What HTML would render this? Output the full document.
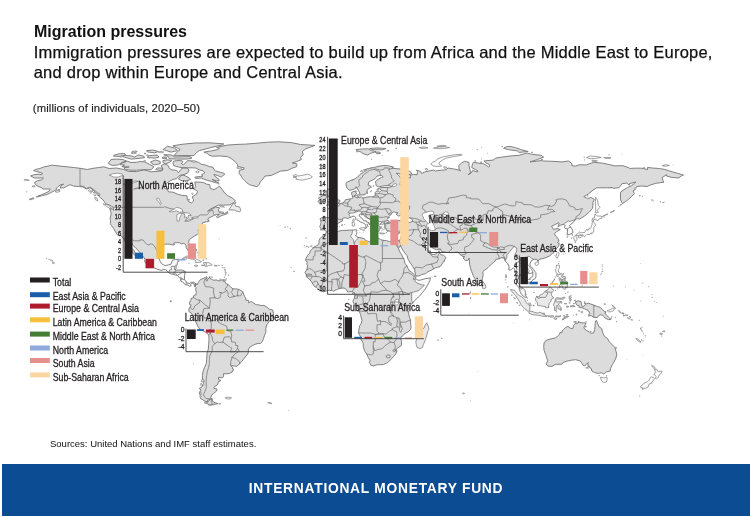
<!DOCTYPE html>
<html><head><meta charset="utf-8"><title>Migration pressures</title>
<style>
html,body{margin:0;padding:0;background:#fff;}
body{width:750px;height:517px;overflow:hidden;position:relative;font-family:"Liberation Sans",sans-serif;color:#1a1a1a;}
.t{position:absolute;white-space:nowrap;}
#title{left:34px;top:23.0px;font-size:16px;font-weight:bold;line-height:18px;color:#111;}
#sub1,#sub2{left:33.7px;font-size:16.5px;letter-spacing:0.23px;line-height:19px;color:#111;-webkit-text-stroke:0.25px #111;}
#sub1{top:43.2px;} #sub2{top:62.6px;}
#units{left:32.8px;top:102.3px;font-size:11.3px;letter-spacing:0.1px;line-height:13px;color:#222;-webkit-text-stroke:0.15px #222;}
#src{left:50px;top:438.2px;font-size:9.5px;line-height:11px;color:#111;}
#footer{position:absolute;left:2px;top:464px;width:748px;height:51.5px;background:#0c4c92;}
#ftxt{position:absolute;left:0;width:750px;top:481.1px;text-align:center;color:#fff;font-weight:bold;font-size:13.8px;letter-spacing:0.74px;line-height:16px;text-indent:2px;}
svg{position:absolute;left:0;top:0;}
#wrap{position:absolute;left:0;top:0;width:750px;height:517px;overflow:hidden;transform:translateZ(0);will-change:transform;background:#fff;}
svg text{font-family:"Liberation Sans",sans-serif;stroke:#231f20;stroke-width:0.3px;paint-order:stroke;}
</style></head><body>
<div id="wrap">
<div class="t" id="title">Migration pressures</div>
<div class="t" id="sub1">Immigration pressures are expected to build up from Africa and the Middle East to Europe,</div>
<div class="t" id="sub2">and drop within Europe and Central Asia.</div>
<div class="t" id="units">(millions of individuals, 2020–50)</div>
<svg width="750" height="517" viewBox="0 0 750 517">
<g id="map">
<path d="M51.8 165.1L60.0 166.1L67.2 166.8L74.5 167.6L80.0 168.3L87.3 169.5L91.8 168.5L98.2 167.6L103.7 166.8L109.1 168.5L116.4 168.0L123.7 169.5L128.3 171.4L136.5 171.6L140.1 170.8L143.8 169.9L151.1 171.8L157.4 171.4L162.0 170.8L162.9 168.5L161.1 165.7L164.7 163.8L168.4 165.7L169.3 168.5L172.0 169.9L176.6 170.4L178.4 172.7L181.1 169.5L182.0 168.0L187.5 168.0L188.8 170.4L187.5 173.3L182.9 174.8L180.2 175.2L178.4 176.5L176.6 178.6L172.9 179.5L168.4 181.8L165.6 184.6L164.4 188.4L167.5 189.4L168.4 191.8L172.9 192.2L177.5 194.1L182.0 195.4L186.9 195.8L187.5 199.8L189.3 202.2L191.5 203.0L193.5 201.1L193.5 199.8L192.1 196.9L196.6 194.1L197.5 191.3L193.9 188.8L195.7 186.5L194.8 182.0L200.2 182.2L203.9 182.7L206.6 184.2L209.7 184.6L210.3 188.4L213.9 189.7L217.6 187.5L219.4 186.0L222.1 189.4L224.8 193.1L227.6 195.6L232.1 197.9L235.4 200.7L234.0 202.6L229.4 204.9L223.9 205.1L218.5 205.1L214.8 206.8L210.3 209.2L207.5 211.3L211.2 209.6L215.7 207.2L219.7 207.7L218.5 209.6L219.0 212.1L221.2 213.0L224.8 213.6L227.6 211.5L227.6 213.4L224.8 214.5L221.2 215.7L217.6 217.8L216.3 216.8L219.4 214.3L216.6 214.5L214.5 215.3L211.2 216.8L208.4 218.1L207.9 220.0L209.4 221.0L206.6 221.7L202.4 222.9L202.1 224.4L200.4 226.3L199.3 227.2L199.0 230.1L197.9 230.1L199.2 233.3L197.2 234.4L194.8 235.9L192.1 237.6L189.3 239.5L188.6 242.4L190.2 246.1L191.0 249.9L190.4 252.4L189.0 252.2L187.9 250.3L186.2 247.5L186.0 245.2L183.9 243.3L181.5 243.9L179.3 242.6L176.6 242.7L173.8 242.9L174.4 245.0L172.0 244.8L169.3 244.1L165.6 244.1L163.4 245.2L160.2 247.1L159.6 250.9L158.9 254.7L158.7 257.9L159.8 260.7L161.6 263.8L163.8 264.9L165.1 265.6L168.4 264.9L171.1 264.1L172.0 261.3L172.4 260.2L175.7 259.4L178.4 259.4L177.5 262.6L176.9 265.5L176.0 266.0L176.0 268.9L175.1 270.0L176.9 270.2L180.2 270.0L182.9 270.2L185.3 271.7L184.6 275.5L184.4 279.3L185.7 281.2L187.1 283.1L189.3 283.4L191.5 282.3L193.3 282.1L195.9 283.6L195.0 286.5L194.1 285.0L194.4 284.0L192.1 283.1L190.6 284.4L191.1 285.9L189.3 286.3L188.0 285.0L185.9 284.8L184.6 284.0L182.6 281.9L180.8 281.2L180.8 279.1L179.3 277.4L177.5 275.5L175.7 275.1L172.9 274.2L170.2 273.6L168.7 272.5L165.6 269.6L163.8 269.4L161.1 270.4L157.4 269.2L154.7 268.1L151.1 266.0L147.4 264.1L144.7 262.2L145.0 259.4L143.2 256.2L140.1 252.8L137.8 249.9L135.6 248.0L132.8 245.2L131.0 241.4L127.9 240.1L127.9 242.4L130.1 245.2L131.9 248.0L134.1 250.9L135.6 253.7L137.4 256.2L136.1 256.6L132.8 253.2L132.5 250.9L129.2 249.0L128.3 247.5L129.2 246.1L126.5 243.3L124.6 240.5L123.5 238.6L121.2 235.7L117.3 234.8L115.0 231.0L113.7 228.7L111.3 225.3L110.4 223.6L110.6 220.6L110.1 218.7L111.0 214.9L111.0 212.5L109.7 208.5L112.8 209.2L113.7 210.4L113.2 207.3L111.9 206.4L109.1 204.9L105.5 203.6L104.0 201.1L101.9 198.8L99.5 196.9L98.2 195.0L95.5 192.2L92.8 189.7L90.0 187.8L86.4 189.0L82.7 186.9L78.2 186.5L73.6 186.1L70.0 184.6L66.3 186.5L63.6 187.8L60.3 188.0L60.9 185.6L63.6 184.2L60.9 184.6L58.1 186.5L56.3 188.4L57.2 189.4L54.5 190.7L50.8 192.6L47.2 194.5L42.6 195.6L39.0 196.4L36.6 196.7L41.7 194.7L45.4 193.1L49.0 191.3L50.3 189.0L47.2 189.0L42.6 189.0L41.7 187.5L38.1 186.5L35.7 184.6L34.4 182.7L37.2 180.8L41.7 179.9L43.6 178.0L39.9 178.0L34.4 178.0L30.6 175.9L34.4 174.6L39.0 174.2L41.7 174.8L42.6 173.3L38.1 171.9L33.5 170.6L35.4 169.5L39.9 168.5L43.6 167.0L49.0 165.9ZM195.9 283.6L197.0 285.0L197.9 283.1L199.2 281.2L200.6 279.3L203.0 278.7L205.4 277.4L206.6 276.6L207.0 277.8L205.9 279.1L206.6 281.2L207.5 280.6L207.0 279.3L209.0 278.5L209.4 277.0L209.9 278.3L212.5 279.7L213.0 280.2L216.6 280.0L219.0 281.0L221.2 280.0L223.9 279.8L222.7 280.8L224.8 281.5L226.1 283.8L227.9 284.4L230.9 287.2L233.0 288.9L236.3 288.9L238.5 289.3L241.6 290.8L242.9 292.1L244.5 296.3L245.8 298.2L245.8 300.1L248.5 300.5L248.7 302.8L251.3 301.4L256.2 304.8L257.6 304.6L261.3 305.6L264.0 305.4L266.8 307.1L269.1 309.2L272.6 309.9L273.5 313.5L273.3 315.4L271.9 318.5L269.5 320.9L266.8 324.7L265.8 328.5L265.8 332.3L264.6 335.1L263.5 338.5L262.2 341.7L260.4 343.6L258.2 343.4L255.5 344.2L252.5 345.5L249.6 347.4L248.4 349.3L248.4 352.3L247.6 354.2L245.3 356.9L243.1 359.7L242.0 361.1L239.6 363.9L236.9 366.2L234.5 366.2L231.6 365.4L230.5 364.5L230.5 365.6L232.7 367.3L232.5 368.8L233.6 369.0L232.1 372.0L229.4 373.4L225.8 373.9L223.6 373.5L223.6 376.8L222.1 377.9L218.5 377.3L218.5 379.6L221.0 380.6L218.5 381.5L217.9 384.3L213.9 387.2L213.9 388.3L217.0 389.1L216.6 391.0L213.7 393.4L211.4 395.3L210.8 397.8L212.3 399.1L210.3 399.1L207.7 400.1L207.5 401.9L204.8 401.0L203.0 399.9L200.6 398.5L200.2 395.7L199.3 392.3L201.2 390.0L199.2 388.5L202.1 386.8L203.5 383.4L204.3 380.6L202.6 379.2L202.4 375.8L203.0 372.0L203.5 370.1L204.6 367.3L206.3 363.5L206.6 359.7L206.8 356.9L207.0 353.1L208.3 349.3L208.6 344.8L209.0 339.9L208.8 335.1L206.8 333.0L204.4 331.5L199.9 329.1L197.9 326.4L196.4 323.0L194.4 319.2L193.0 315.6L191.3 313.2L189.0 311.5L188.8 309.0L190.2 306.7L191.3 305.0L189.5 304.3L189.7 302.0L191.0 300.1L191.0 298.6L193.1 297.8L193.9 295.4L195.7 295.0L196.4 292.7L195.7 289.7L195.9 287.4L195.0 286.5ZM211.9 399.7L212.6 401.0L213.9 402.3L218.1 403.6L215.7 404.2L212.1 404.8L209.4 404.8L206.6 403.5L204.8 402.3L208.4 401.8L209.0 400.4L210.6 399.7ZM278.6 141.8L291.3 142.6L300.5 144.5L315.0 145.4L305.9 148.7L302.3 151.5L303.2 154.7L300.5 157.2L301.4 159.5L296.8 161.5L292.3 163.0L296.8 163.8L296.8 166.6L291.3 168.5L287.7 170.4L280.4 171.2L275.9 173.3L271.3 175.4L264.9 176.1L263.1 178.9L260.4 181.8L259.1 184.6L256.9 186.7L254.0 186.0L249.4 184.6L246.7 182.7L244.9 180.8L242.7 178.6L241.2 176.1L239.1 173.3L239.4 170.4L244.0 169.1L244.0 167.8L237.6 166.6L237.6 164.8L235.8 162.3L232.1 159.1L227.6 156.6L220.3 156.0L212.1 156.2L208.4 154.7L207.5 153.4L203.9 152.1L211.2 150.9L217.6 149.6L219.4 148.3L216.6 147.5L221.2 146.4L227.6 145.1L234.9 144.5L245.8 144.1L254.9 143.4L267.7 142.2ZM218.8 183.1L215.7 182.7L211.2 181.4L206.1 179.9L201.2 178.0L195.7 178.4L194.8 177.1L200.2 176.5L203.0 176.1L201.5 174.8L204.8 172.9L203.0 170.8L199.3 169.9L195.7 168.0L192.1 167.8L187.5 167.8L182.0 167.6L178.4 167.0L173.8 165.7L172.9 162.9L173.8 161.0L180.2 160.4L182.9 161.3L181.5 163.8L183.3 164.8L185.7 162.9L187.5 160.6L190.2 160.8L194.8 161.3L198.4 162.3L201.2 164.2L205.7 165.1L209.4 166.6L213.0 167.2L213.9 169.5L215.7 171.0L220.3 172.3L223.9 173.3L224.8 174.2L223.0 175.5L221.2 177.1L217.6 175.5L213.9 174.4L215.7 177.1L218.8 179.1L219.2 180.8L216.6 180.8L212.1 179.5L216.1 181.8ZM125.5 169.5L130.1 170.2L136.5 170.2L143.8 169.7L151.1 169.7L152.9 168.2L153.8 166.6L149.2 164.2L144.7 161.9L140.1 161.5L136.5 162.3L131.0 162.5L127.4 161.2L121.9 162.3L120.1 164.6L124.6 165.1L121.9 166.5L129.2 167.0L123.7 167.8ZM112.8 165.5L118.3 164.8L120.1 163.8L125.5 161.9L126.5 161.0L122.8 159.5L116.4 159.1L111.0 159.5L110.1 161.0L108.2 163.2L110.1 164.6ZM124.6 157.2L131.0 159.1L140.1 158.3L144.7 157.6L143.8 156.2L138.3 154.9L134.7 157.0L131.0 155.9L124.6 155.3L122.8 156.6ZM113.7 156.2L120.1 156.4L125.5 155.1L124.6 153.6L119.2 153.8L113.7 155.3ZM147.4 157.6L154.7 158.1L158.9 157.2L157.4 155.1L152.9 155.3L148.3 155.9ZM191.1 157.0L191.5 158.5L185.7 159.1L176.6 159.1L169.3 158.7L168.4 156.6L163.8 154.7L171.1 154.9L174.7 157.0L182.0 156.8L189.3 156.6ZM162.9 160.6L167.5 159.8L172.0 160.4L169.3 162.5L165.6 163.8L162.9 162.3ZM154.7 164.8L160.2 163.8L160.2 161.5L155.6 160.0L150.5 161.9L152.0 163.8ZM155.6 169.5L159.3 170.4L162.9 169.7L162.0 168.0L157.4 168.0ZM178.4 178.9L181.1 175.5L183.9 175.2L189.3 178.0L190.6 179.5L186.6 180.8L181.1 180.5ZM173.8 155.7L185.7 155.5L193.0 155.7L194.8 154.7L196.6 152.4L199.3 150.6L205.7 149.0L211.2 147.5L216.6 146.2L222.1 145.1L223.9 143.9L209.4 142.8L194.8 143.0L182.0 144.3L172.9 145.8L176.6 147.7L180.2 149.6L178.4 150.9L176.6 152.8ZM162.9 149.6L167.5 146.2L174.7 148.1L177.5 150.6L171.1 152.1ZM147.4 151.9L154.7 152.8L158.3 151.5L152.9 150.0L146.5 150.6ZM162.0 158.1L166.5 158.7L166.5 157.2L162.9 157.0ZM383.9 165.5L387.9 165.7L393.4 167.0L391.6 168.2L397.0 168.7L402.5 169.3L409.8 171.4L411.6 172.9L411.6 174.0L407.0 175.0L400.7 174.2L396.1 173.1L397.9 174.6L400.3 177.1L400.3 178.0L403.4 178.9L406.1 179.1L405.8 177.4L410.7 177.8L409.8 175.5L413.4 174.4L417.1 174.8L417.6 171.4L416.2 170.2L420.7 171.4L421.6 173.5L424.4 172.1L428.0 171.2L433.5 170.1L435.3 171.0L441.7 170.2L446.2 169.7L448.0 168.0L453.5 168.9L458.1 169.9L460.8 170.8L459.0 169.5L459.0 167.6L458.6 165.7L461.7 162.9L464.4 161.3L469.0 162.3L469.0 165.7L469.9 169.5L470.8 173.3L468.1 174.6L471.7 172.3L472.6 170.4L477.2 172.1L478.1 171.0L471.7 167.6L472.6 163.8L473.5 162.3L479.0 163.2L483.6 163.8L486.9 165.7L488.5 167.0L489.9 166.1L489.0 164.2L486.3 163.2L483.9 161.0L493.6 160.0L495.4 158.1L502.7 157.0L510.0 156.0L519.1 155.3L526.9 153.0L531.9 154.3L541.0 155.3L543.7 157.2L537.3 159.6L530.0 161.9L541.0 160.6L543.7 161.0L551.9 161.3L561.9 161.9L568.3 161.0L571.9 163.4L571.9 165.7L575.6 166.1L579.2 164.8L586.5 164.9L592.0 162.9L593.8 162.3L602.9 163.2L610.2 164.8L614.8 165.9L623.0 165.7L628.4 167.6L630.2 168.5L633.9 168.2L641.2 168.2L647.6 169.5L647.6 167.4L652.1 168.0L659.4 168.5L664.9 169.5L672.1 171.8L677.6 173.3L683.4 175.0L681.3 176.1L678.5 178.0L672.1 177.4L666.7 176.1L666.7 174.6L662.1 177.6L663.0 180.8L663.9 182.2L655.8 183.3L650.3 185.0L647.2 186.5L641.2 186.0L636.6 186.7L634.4 190.3L633.0 190.9L634.4 193.7L632.1 196.0L628.4 199.4L625.3 201.7L622.4 203.6L620.6 199.8L620.4 196.0L620.6 192.2L623.0 190.3L627.5 187.5L631.7 185.6L634.8 183.1L635.7 182.0L629.3 183.7L629.3 185.2L626.6 183.1L622.0 183.7L619.3 187.5L613.8 188.4L612.0 187.5L607.5 187.8L601.1 187.8L596.5 187.8L592.0 190.9L588.3 194.1L583.8 196.6L586.5 197.9L587.4 198.6L591.1 197.5L594.3 199.4L592.9 202.6L592.9 205.5L592.5 208.3L589.2 212.1L584.7 215.9L579.6 219.1L577.2 218.5L575.0 220.0L573.2 222.5L570.7 224.4L569.2 225.7L570.8 227.2L572.7 230.1L572.8 232.9L569.6 234.4L567.2 235.0L567.4 232.0L567.6 229.1L565.2 228.5L564.5 227.2L565.2 225.3L563.4 224.4L560.1 225.3L557.9 226.7L559.2 223.4L558.8 222.7L554.6 224.8L551.5 226.3L552.8 228.2L553.7 229.5L557.0 228.5L560.3 229.5L556.5 231.8L554.3 233.8L556.5 236.7L558.8 239.9L558.8 241.6L557.4 242.4L559.2 243.7L558.3 246.5L556.1 249.0L554.6 251.8L552.3 253.7L549.5 256.0L545.2 257.9L542.8 258.5L539.1 259.4L537.9 261.7L537.0 259.4L534.2 259.2L531.5 260.7L529.7 264.1L530.9 266.4L533.3 269.2L535.9 272.7L536.0 276.4L535.5 278.3L532.2 280.4L531.1 282.1L528.6 283.6L527.8 281.5L527.3 280.4L525.5 280.0L524.4 278.0L522.7 276.4L520.9 276.1L520.7 274.5L519.1 274.9L518.9 277.4L517.6 280.2L517.8 282.5L519.6 284.4L520.0 286.5L522.2 287.4L523.3 288.4L525.1 290.6L525.5 292.5L525.3 295.0L526.8 297.4L525.5 297.6L523.1 295.9L521.5 294.4L520.2 292.1L519.6 289.7L519.3 287.8L518.4 286.8L516.4 285.0L516.4 281.5L516.5 278.3L516.4 275.5L514.9 271.7L514.7 268.9L513.3 267.9L511.8 268.9L510.5 270.2L508.7 269.8L509.1 267.0L508.2 264.1L506.3 262.2L504.9 260.3L504.2 257.9L501.8 257.5L499.1 258.8L495.8 259.4L495.0 261.3L493.2 262.6L490.9 264.7L488.7 266.6L486.7 268.9L484.5 270.2L482.8 271.7L483.2 275.3L482.3 278.3L482.3 280.6L480.8 282.5L479.4 283.4L478.1 284.8L476.3 283.1L475.0 278.7L473.2 275.5L471.7 271.7L470.5 267.9L469.5 264.1L469.4 260.3L469.0 258.1L468.3 260.0L465.9 260.9L463.0 258.1L464.8 256.8L462.3 256.2L461.2 255.2L459.5 254.1L458.8 253.0L458.1 252.0L454.4 252.4L450.4 252.6L449.1 252.6L444.4 252.0L441.3 251.3L440.4 248.8L436.2 249.7L432.6 247.9L429.8 245.6L428.0 242.9L426.0 242.7L424.4 243.5L424.4 245.2L425.6 247.1L428.0 249.6L428.4 251.8L429.5 253.2L429.5 251.6L430.2 250.7L430.9 252.8L430.7 254.1L433.5 254.5L436.2 253.9L437.7 252.2L439.1 250.7L439.7 253.0L440.8 254.7L443.7 255.4L445.9 257.5L443.9 261.3L442.0 264.1L440.8 266.0L437.7 267.4L435.3 267.9L432.0 269.8L428.0 271.7L425.6 273.6L421.6 274.7L418.9 275.9L416.2 276.1L415.6 274.9L414.9 271.7L414.7 269.1L412.5 266.0L409.8 262.2L408.1 259.4L407.0 255.6L404.7 252.8L403.4 250.9L401.0 247.1L400.5 244.3L399.8 247.1L399.2 247.7L397.4 246.0L396.3 243.5L395.8 240.8L399.2 240.8L400.3 239.1L400.9 237.4L401.8 235.4L402.3 233.5L402.7 230.8L400.7 230.6L398.3 231.6L396.1 231.8L392.7 230.4L390.6 231.6L388.3 230.6L386.6 230.1L386.1 228.2L384.8 227.4L385.5 225.7L384.5 225.1L384.6 224.4L387.0 223.6L389.7 223.4L389.9 222.5L392.5 222.1L395.2 221.0L397.9 220.6L400.9 220.6L403.0 221.9L406.1 222.5L409.8 222.5L412.5 221.5L412.5 219.6L409.8 217.9L406.1 215.9L404.3 214.5L405.2 213.2L406.5 212.3L408.5 210.8L405.2 211.1L403.4 211.7L401.2 212.5L400.7 213.6L403.4 214.3L401.4 214.9L398.8 216.1L397.9 215.7L396.1 214.2L398.1 212.8L395.2 212.6L394.3 211.9L392.8 212.1L391.0 214.3L389.2 216.4L389.0 217.8L387.7 218.3L387.0 219.6L388.1 220.8L389.7 222.1L387.9 222.5L386.6 223.1L385.5 223.6L384.6 224.2L384.5 223.2L382.4 222.7L381.4 222.7L380.6 223.6L381.4 224.2L379.5 224.4L378.6 223.4L378.1 224.4L378.8 225.7L379.4 227.0L380.6 227.8L380.8 228.7L379.7 228.4L378.8 228.4L379.2 229.3L379.2 231.0L377.7 231.0L376.4 230.4L375.7 228.7L376.4 227.6L375.2 226.8L374.6 226.3L373.7 225.1L373.2 224.4L372.2 223.4L372.4 221.5L371.9 220.6L370.6 219.6L367.9 218.3L366.8 217.8L364.6 216.4L364.0 214.9L363.1 214.3L361.7 215.1L361.7 213.8L359.7 214.2L359.3 215.9L359.9 216.8L361.7 217.8L362.8 219.6L364.6 220.8L366.4 220.8L366.1 221.7L367.9 222.3L369.7 223.2L370.6 224.2L370.2 224.8L368.2 223.6L367.1 224.8L368.1 226.3L367.0 227.4L365.5 228.4L365.5 227.8L366.1 226.3L365.5 224.4L363.3 223.2L362.8 222.9L360.6 222.1L359.1 221.0L357.1 219.8L356.0 218.7L355.7 217.8L354.8 216.6L353.1 216.1L351.5 217.0L350.2 217.4L347.8 218.5L346.0 217.9L344.2 217.8L342.7 218.3L342.5 219.8L342.7 220.8L340.9 221.7L338.5 222.9L336.9 224.6L336.4 225.5L337.3 226.7L336.0 227.6L335.4 228.9L333.4 230.2L330.5 230.6L328.9 230.6L327.1 231.8L326.0 231.6L325.4 230.8L324.3 229.7L323.4 229.7L320.7 230.1L320.9 228.2L319.6 226.8L320.5 225.1L321.0 222.5L320.7 220.6L320.0 218.7L322.3 217.4L326.5 217.6L330.0 217.8L333.6 217.9L334.7 215.9L334.9 213.8L334.7 212.6L332.9 211.1L332.3 210.4L329.1 209.6L328.2 208.5L330.5 207.7L334.0 208.1L334.0 206.2L334.9 206.6L337.1 206.4L339.6 205.3L339.8 203.7L342.7 203.0L344.2 201.7L345.5 199.8L349.5 199.0L351.7 198.6L352.9 197.9L352.6 196.0L351.7 194.8L351.7 192.2L356.2 190.9L355.7 192.8L356.8 193.5L355.1 195.0L354.2 196.0L355.1 196.9L356.9 197.9L359.1 197.5L361.5 196.9L363.0 198.1L366.1 197.3L370.6 196.6L373.0 196.9L375.2 195.6L375.2 192.6L376.3 191.3L378.1 190.9L379.7 192.2L381.4 190.3L379.7 188.8L379.7 188.0L382.1 187.5L387.9 187.5L391.9 186.7L389.2 185.4L384.3 185.8L382.4 186.1L378.8 186.9L376.1 185.6L375.9 183.7L375.5 181.8L376.3 180.5L378.8 178.9L381.5 177.4L383.2 176.9L381.7 175.5L379.7 175.5L377.0 176.1L375.7 177.8L373.9 179.3L370.6 181.0L368.6 182.2L368.2 185.2L370.6 186.1L371.3 187.3L369.9 187.8L367.9 189.2L367.1 190.7L366.8 192.8L365.7 193.9L363.0 194.8L360.6 195.2L360.0 194.1L358.8 190.9L357.3 188.6L356.2 186.7L355.7 188.2L353.3 189.4L349.7 190.3L347.3 188.6L346.2 186.0L346.0 183.7L346.4 182.4L349.7 181.0L352.8 179.7L354.8 178.9L357.3 177.2L359.3 175.5L360.6 173.8L363.1 172.7L364.2 171.4L367.0 170.2L364.2 169.7L368.8 168.5L371.5 168.0L375.2 167.2L379.7 166.1ZM326.5 205.3L330.5 204.9L334.5 204.1L337.4 203.9L339.5 203.2L338.2 202.6L339.8 201.7L340.0 200.3L337.4 199.8L337.3 198.6L336.5 197.5L334.7 196.6L334.0 195.0L333.1 194.1L330.9 194.1L332.2 193.3L333.3 191.1L329.6 190.9L331.3 189.2L327.8 189.2L326.9 190.7L326.3 192.2L326.9 193.7L326.5 195.4L328.2 195.0L327.8 196.4L330.5 196.2L331.1 197.9L331.4 199.0L328.7 199.2L329.1 200.1L329.4 201.1L327.4 201.9L330.5 202.6L331.8 202.6L329.2 203.2ZM325.6 199.2L325.4 201.3L321.8 202.0L318.7 202.4L318.1 201.3L319.6 199.8L318.7 198.8L319.0 197.3L321.4 196.9L321.8 195.8L323.6 195.4L326.0 195.6L326.9 196.9L326.0 197.9ZM395.8 233.7L397.0 233.1L399.9 232.5L398.8 233.8L397.0 234.6L395.9 234.4ZM356.0 149.6L362.4 149.0L367.9 148.8L371.5 150.6L376.1 151.5L370.6 153.4L367.3 155.1L362.4 153.4L361.5 152.1L356.9 150.9ZM369.7 148.5L377.0 147.9L386.1 148.5L382.4 149.8L373.3 149.6ZM375.2 152.1L379.7 152.1L380.6 153.4L377.0 153.8ZM510.0 146.4L515.5 147.7L520.9 149.6L528.2 151.5L519.1 152.4L517.3 150.9L508.2 149.6L503.6 148.3L506.3 146.8ZM395.8 240.8L393.4 240.5L391.6 241.0L389.7 241.6L386.5 240.7L382.8 240.3L380.4 239.5L378.8 238.4L376.3 237.8L373.5 239.3L373.2 241.8L371.5 242.7L368.8 241.6L365.5 240.5L364.6 238.8L361.0 237.8L357.9 237.3L356.8 236.3L355.3 235.7L356.4 234.4L356.9 232.7L356.2 231.2L357.1 230.1L355.5 229.7L352.6 230.2L349.7 230.1L346.0 230.4L342.4 230.4L338.7 231.2L335.8 232.5L333.3 233.7L331.4 233.3L328.7 233.5L327.2 232.1L326.2 232.3L325.4 234.2L324.5 235.7L323.1 236.5L321.2 237.3L320.0 238.6L319.0 240.5L319.2 242.6L318.3 244.6L316.5 245.8L313.4 247.3L312.5 249.0L310.5 250.5L309.6 253.2L307.7 255.2L306.1 258.5L305.7 260.5L307.2 262.2L306.8 264.1L307.7 265.8L306.8 269.8L305.0 272.3L306.3 274.5L306.3 276.6L307.7 277.8L309.6 279.5L311.9 282.1L312.8 284.0L314.1 286.1L316.3 287.4L317.2 288.2L320.0 290.3L323.2 291.8L326.0 291.0L329.6 290.3L332.3 290.6L333.3 291.2L336.5 289.7L339.1 288.6L341.5 288.2L343.1 288.0L345.1 288.4L346.6 290.1L347.8 292.0L349.7 291.8L352.0 291.6L353.1 292.5L354.6 292.7L354.8 295.4L354.4 298.2L353.8 299.3L352.9 301.4L354.4 304.6L356.9 307.5L358.4 309.2L359.1 311.3L360.6 314.3L361.0 316.8L362.0 320.4L361.3 323.4L359.7 325.7L359.1 328.9L358.4 332.7L360.2 336.1L361.3 339.5L363.3 343.4L363.3 346.5L364.4 350.5L366.8 354.2L368.4 357.8L370.1 360.7L369.5 362.4L370.4 364.3L370.6 365.2L373.3 366.0L377.2 364.7L380.6 364.7L383.5 364.5L387.7 362.6L390.6 359.7L393.4 356.7L395.8 354.1L396.8 351.0L396.3 349.1L397.9 347.8L401.4 345.5L401.6 341.7L400.7 338.9L400.3 337.6L403.0 335.7L404.3 333.8L408.0 331.9L410.7 329.4L411.1 327.5L410.7 324.5L410.5 320.0L409.4 317.1L408.5 313.0L407.8 310.5L408.3 309.0L409.2 307.7L410.3 304.8L412.5 303.3L414.5 300.7L417.1 298.2L419.4 296.3L422.5 292.5L425.3 289.1L427.1 285.9L428.9 282.5L430.0 280.2L430.4 277.8L428.0 278.3L425.3 278.7L421.6 279.7L418.9 280.4L416.5 279.5L415.6 278.3L415.8 276.4L414.2 274.5L411.6 272.3L409.2 270.8L408.0 268.3L407.0 266.0L404.9 263.2L404.3 260.3L403.0 257.5L401.8 254.9L399.8 251.8L398.7 249.0L397.0 246.1L396.1 243.5ZM596.5 320.4L598.9 326.6L601.6 328.5L602.9 333.2L604.4 336.4L607.5 338.5L609.3 341.7L611.7 344.2L614.8 347.4L616.0 351.2L616.8 354.4L615.7 358.8L613.8 362.2L612.4 364.5L610.6 368.2L610.2 371.1L606.6 371.8L603.6 374.1L601.1 372.6L598.4 373.5L594.7 372.6L592.0 371.1L591.1 368.2L589.2 367.5L589.2 366.0L588.0 366.7L588.0 363.5L588.3 362.6L586.5 363.9L584.7 366.0L583.2 365.4L581.4 362.6L580.1 360.9L575.6 359.7L571.9 360.1L566.5 361.2L562.8 362.6L561.9 364.3L555.5 364.3L551.9 366.4L548.3 366.2L546.6 365.0L546.4 363.5L547.7 360.7L546.4 356.9L545.7 354.6L544.1 350.5L543.7 346.5L544.1 342.9L545.0 341.4L547.3 339.9L550.1 339.1L553.0 338.5L555.5 337.8L558.3 335.7L559.5 334.2L560.1 332.3L561.9 332.8L562.1 331.0L563.7 329.4L565.6 327.5L567.9 326.4L570.1 328.1L571.0 328.5L573.0 328.3L573.4 325.7L575.2 323.6L578.3 323.0L578.5 321.5L581.0 322.8L583.8 322.8L586.1 323.2L584.7 325.7L583.8 328.1L586.1 330.2L589.2 331.9L591.1 333.2L593.6 333.0L594.7 329.4L595.1 325.7L595.1 323.8L595.6 320.9ZM575.6 301.6L578.3 300.9L581.0 301.6L581.4 303.9L582.0 306.3L583.8 306.3L585.6 304.3L588.3 303.1L593.3 305.0L597.4 306.5L600.2 307.3L602.5 309.9L604.7 311.5L606.2 312.0L604.7 313.0L606.6 315.2L608.4 317.1L611.1 319.4L608.4 319.6L605.1 318.1L602.9 315.4L600.2 314.7L598.4 315.8L597.4 317.5L593.8 317.3L591.1 315.6L588.3 316.0L589.8 313.4L588.3 310.5L584.7 308.8L581.0 307.5L579.2 307.7L578.9 305.4L577.4 305.6L575.6 302.9Z" fill="#dcdcdc" stroke="none"/>
<path d="M505.1 261.3L505.6 259.8L506.7 257.9L506.9 254.7L509.3 252.4L510.4 250.9L512.2 248.4L514.2 246.5L516.7 248.0L516.7 251.1L514.9 254.7L516.7 254.7L517.6 256.6L517.6 258.3L519.3 259.4L521.3 258.8L521.3 260.0L523.1 257.7L526.4 257.1L529.1 256.2L531.3 258.1L533.7 259.4L535.5 261.3L538.2 267.9L538.2 281.2L530.0 286.8L528.2 296.3L526.9 298.0L525.3 298.0L520.9 295.2L518.2 291.6L515.5 286.8L513.6 283.1L512.7 273.6L507.8 270.8L507.3 265.1ZM563.4 224.4L564.6 223.4L568.1 221.0L570.1 221.5L571.9 220.6L574.9 219.8L575.9 222.5L574.1 232.0L573.4 234.8L566.5 235.9L565.6 233.8L563.2 228.2ZM348.9 214.7L349.7 213.2L353.3 213.0L355.8 211.9L359.1 211.1L361.9 212.1L361.9 213.8L360.6 214.9L361.5 217.2L367.0 220.2L371.5 224.0L368.8 227.2L366.1 229.1L364.8 231.4L358.8 229.7L358.4 227.2L362.4 224.4L357.9 221.0L354.8 217.8L352.4 216.8L350.6 217.8ZM373.2 224.9L373.5 224.9L375.2 222.9L378.8 221.9L381.5 221.5L384.8 221.2L384.8 223.4L382.4 223.8L381.5 228.2L381.5 232.0L377.0 232.0L374.8 229.1L372.4 225.7ZM352.6 230.2L352.0 233.8L350.6 236.7L353.3 239.5L354.2 242.9L355.7 240.5L357.9 238.6L357.9 237.3L358.4 234.8L358.0 229.1L353.3 228.7ZM415.6 278.3L415.2 279.3L414.9 281.2L417.1 283.1L422.5 285.0L424.4 285.0L418.9 290.6L413.4 292.1L411.6 292.7L411.6 300.1L412.7 303.3L415.2 302.9L422.5 295.4L428.0 286.8L431.6 281.2L431.6 276.4L424.4 277.4L418.0 278.9ZM141.9 258.8L180.2 258.8L180.2 267.9L186.6 269.8L186.6 279.3L191.1 281.4L195.9 283.6L195.0 286.5L193.0 287.8L183.9 286.3L176.6 277.4L167.5 274.2L160.2 271.9L151.1 268.1L141.9 263.6Z" fill="#ffffff" fill-opacity="0.8" stroke="none"/>
<path d="M51.8 165.1L60.0 166.1L67.2 166.8L74.5 167.6L80.0 168.3L87.3 169.5L91.8 168.5L98.2 167.6L103.7 166.8L109.1 168.5L116.4 168.0L123.7 169.5L128.3 171.4L136.5 171.6L140.1 170.8L143.8 169.9L151.1 171.8L157.4 171.4L162.0 170.8L162.9 168.5L161.1 165.7L164.7 163.8L168.4 165.7L169.3 168.5L172.0 169.9L176.6 170.4L178.4 172.7L181.1 169.5L182.0 168.0L187.5 168.0L188.8 170.4L187.5 173.3L182.9 174.8L180.2 175.2L178.4 176.5L176.6 178.6L172.9 179.5L168.4 181.8L165.6 184.6L164.4 188.4L167.5 189.4L168.4 191.8L172.9 192.2L177.5 194.1L182.0 195.4L186.9 195.8L187.5 199.8L189.3 202.2L191.5 203.0L193.5 201.1L193.5 199.8L192.1 196.9L196.6 194.1L197.5 191.3L193.9 188.8L195.7 186.5L194.8 182.0L200.2 182.2L203.9 182.7L206.6 184.2L209.7 184.6L210.3 188.4L213.9 189.7L217.6 187.5L219.4 186.0L222.1 189.4L224.8 193.1L227.6 195.6L232.1 197.9L235.4 200.7L234.0 202.6L229.4 204.9L223.9 205.1L218.5 205.1L214.8 206.8L210.3 209.2L207.5 211.3L211.2 209.6L215.7 207.2L219.7 207.7L218.5 209.6L219.0 212.1L221.2 213.0L224.8 213.6L227.6 211.5L227.6 213.4L224.8 214.5L221.2 215.7L217.6 217.8L216.3 216.8L219.4 214.3L216.6 214.5L214.5 215.3L211.2 216.8L208.4 218.1L207.9 220.0L209.4 221.0L206.6 221.7L202.4 222.9L202.1 224.4L200.4 226.3L199.3 227.2L199.0 230.1L197.9 230.1L199.2 233.3L197.2 234.4L194.8 235.9L192.1 237.6L189.3 239.5L188.6 242.4L190.2 246.1L191.0 249.9L190.4 252.4L189.0 252.2L187.9 250.3L186.2 247.5L186.0 245.2L183.9 243.3L181.5 243.9L179.3 242.6L176.6 242.7L173.8 242.9L174.4 245.0L172.0 244.8L169.3 244.1L165.6 244.1L163.4 245.2L160.2 247.1L159.6 250.9L158.9 254.7L158.7 257.9L159.8 260.7L161.6 263.8L163.8 264.9L165.1 265.6L168.4 264.9L171.1 264.1L172.0 261.3L172.4 260.2L175.7 259.4L178.4 259.4L177.5 262.6L176.9 265.5L176.0 266.0L176.0 268.9L175.1 270.0L176.9 270.2L180.2 270.0L182.9 270.2L185.3 271.7L184.6 275.5L184.4 279.3L185.7 281.2L187.1 283.1L189.3 283.4L191.5 282.3L193.3 282.1L195.9 283.6L195.0 286.5L194.1 285.0L194.4 284.0L192.1 283.1L190.6 284.4L191.1 285.9L189.3 286.3L188.0 285.0L185.9 284.8L184.6 284.0L182.6 281.9L180.8 281.2L180.8 279.1L179.3 277.4L177.5 275.5L175.7 275.1L172.9 274.2L170.2 273.6L168.7 272.5L165.6 269.6L163.8 269.4L161.1 270.4L157.4 269.2L154.7 268.1L151.1 266.0L147.4 264.1L144.7 262.2L145.0 259.4L143.2 256.2L140.1 252.8L137.8 249.9L135.6 248.0L132.8 245.2L131.0 241.4L127.9 240.1L127.9 242.4L130.1 245.2L131.9 248.0L134.1 250.9L135.6 253.7L137.4 256.2L136.1 256.6L132.8 253.2L132.5 250.9L129.2 249.0L128.3 247.5L129.2 246.1L126.5 243.3L124.6 240.5L123.5 238.6L121.2 235.7L117.3 234.8L115.0 231.0L113.7 228.7L111.3 225.3L110.4 223.6L110.6 220.6L110.1 218.7L111.0 214.9L111.0 212.5L109.7 208.5L112.8 209.2L113.7 210.4L113.2 207.3L111.9 206.4L109.1 204.9L105.5 203.6L104.0 201.1L101.9 198.8L99.5 196.9L98.2 195.0L95.5 192.2L92.8 189.7L90.0 187.8L86.4 189.0L82.7 186.9L78.2 186.5L73.6 186.1L70.0 184.6L66.3 186.5L63.6 187.8L60.3 188.0L60.9 185.6L63.6 184.2L60.9 184.6L58.1 186.5L56.3 188.4L57.2 189.4L54.5 190.7L50.8 192.6L47.2 194.5L42.6 195.6L39.0 196.4L36.6 196.7L41.7 194.7L45.4 193.1L49.0 191.3L50.3 189.0L47.2 189.0L42.6 189.0L41.7 187.5L38.1 186.5L35.7 184.6L34.4 182.7L37.2 180.8L41.7 179.9L43.6 178.0L39.9 178.0L34.4 178.0L30.6 175.9L34.4 174.6L39.0 174.2L41.7 174.8L42.6 173.3L38.1 171.9L33.5 170.6L35.4 169.5L39.9 168.5L43.6 167.0L49.0 165.9ZM195.9 283.6L197.0 285.0L197.9 283.1L199.2 281.2L200.6 279.3L203.0 278.7L205.4 277.4L206.6 276.6L207.0 277.8L205.9 279.1L206.6 281.2L207.5 280.6L207.0 279.3L209.0 278.5L209.4 277.0L209.9 278.3L212.5 279.7L213.0 280.2L216.6 280.0L219.0 281.0L221.2 280.0L223.9 279.8L222.7 280.8L224.8 281.5L226.1 283.8L227.9 284.4L230.9 287.2L233.0 288.9L236.3 288.9L238.5 289.3L241.6 290.8L242.9 292.1L244.5 296.3L245.8 298.2L245.8 300.1L248.5 300.5L248.7 302.8L251.3 301.4L256.2 304.8L257.6 304.6L261.3 305.6L264.0 305.4L266.8 307.1L269.1 309.2L272.6 309.9L273.5 313.5L273.3 315.4L271.9 318.5L269.5 320.9L266.8 324.7L265.8 328.5L265.8 332.3L264.6 335.1L263.5 338.5L262.2 341.7L260.4 343.6L258.2 343.4L255.5 344.2L252.5 345.5L249.6 347.4L248.4 349.3L248.4 352.3L247.6 354.2L245.3 356.9L243.1 359.7L242.0 361.1L239.6 363.9L236.9 366.2L234.5 366.2L231.6 365.4L230.5 364.5L230.5 365.6L232.7 367.3L232.5 368.8L233.6 369.0L232.1 372.0L229.4 373.4L225.8 373.9L223.6 373.5L223.6 376.8L222.1 377.9L218.5 377.3L218.5 379.6L221.0 380.6L218.5 381.5L217.9 384.3L213.9 387.2L213.9 388.3L217.0 389.1L216.6 391.0L213.7 393.4L211.4 395.3L210.8 397.8L212.3 399.1L210.3 399.1L207.7 400.1L207.5 401.9L204.8 401.0L203.0 399.9L200.6 398.5L200.2 395.7L199.3 392.3L201.2 390.0L199.2 388.5L202.1 386.8L203.5 383.4L204.3 380.6L202.6 379.2L202.4 375.8L203.0 372.0L203.5 370.1L204.6 367.3L206.3 363.5L206.6 359.7L206.8 356.9L207.0 353.1L208.3 349.3L208.6 344.8L209.0 339.9L208.8 335.1L206.8 333.0L204.4 331.5L199.9 329.1L197.9 326.4L196.4 323.0L194.4 319.2L193.0 315.6L191.3 313.2L189.0 311.5L188.8 309.0L190.2 306.7L191.3 305.0L189.5 304.3L189.7 302.0L191.0 300.1L191.0 298.6L193.1 297.8L193.9 295.4L195.7 295.0L196.4 292.7L195.7 289.7L195.9 287.4L195.0 286.5ZM211.9 399.7L212.6 401.0L213.9 402.3L218.1 403.6L215.7 404.2L212.1 404.8L209.4 404.8L206.6 403.5L204.8 402.3L208.4 401.8L209.0 400.4L210.6 399.7ZM278.6 141.8L291.3 142.6L300.5 144.5L315.0 145.4L305.9 148.7L302.3 151.5L303.2 154.7L300.5 157.2L301.4 159.5L296.8 161.5L292.3 163.0L296.8 163.8L296.8 166.6L291.3 168.5L287.7 170.4L280.4 171.2L275.9 173.3L271.3 175.4L264.9 176.1L263.1 178.9L260.4 181.8L259.1 184.6L256.9 186.7L254.0 186.0L249.4 184.6L246.7 182.7L244.9 180.8L242.7 178.6L241.2 176.1L239.1 173.3L239.4 170.4L244.0 169.1L244.0 167.8L237.6 166.6L237.6 164.8L235.8 162.3L232.1 159.1L227.6 156.6L220.3 156.0L212.1 156.2L208.4 154.7L207.5 153.4L203.9 152.1L211.2 150.9L217.6 149.6L219.4 148.3L216.6 147.5L221.2 146.4L227.6 145.1L234.9 144.5L245.8 144.1L254.9 143.4L267.7 142.2ZM218.8 183.1L215.7 182.7L211.2 181.4L206.1 179.9L201.2 178.0L195.7 178.4L194.8 177.1L200.2 176.5L203.0 176.1L201.5 174.8L204.8 172.9L203.0 170.8L199.3 169.9L195.7 168.0L192.1 167.8L187.5 167.8L182.0 167.6L178.4 167.0L173.8 165.7L172.9 162.9L173.8 161.0L180.2 160.4L182.9 161.3L181.5 163.8L183.3 164.8L185.7 162.9L187.5 160.6L190.2 160.8L194.8 161.3L198.4 162.3L201.2 164.2L205.7 165.1L209.4 166.6L213.0 167.2L213.9 169.5L215.7 171.0L220.3 172.3L223.9 173.3L224.8 174.2L223.0 175.5L221.2 177.1L217.6 175.5L213.9 174.4L215.7 177.1L218.8 179.1L219.2 180.8L216.6 180.8L212.1 179.5L216.1 181.8ZM125.5 169.5L130.1 170.2L136.5 170.2L143.8 169.7L151.1 169.7L152.9 168.2L153.8 166.6L149.2 164.2L144.7 161.9L140.1 161.5L136.5 162.3L131.0 162.5L127.4 161.2L121.9 162.3L120.1 164.6L124.6 165.1L121.9 166.5L129.2 167.0L123.7 167.8ZM112.8 165.5L118.3 164.8L120.1 163.8L125.5 161.9L126.5 161.0L122.8 159.5L116.4 159.1L111.0 159.5L110.1 161.0L108.2 163.2L110.1 164.6ZM124.6 157.2L131.0 159.1L140.1 158.3L144.7 157.6L143.8 156.2L138.3 154.9L134.7 157.0L131.0 155.9L124.6 155.3L122.8 156.6ZM113.7 156.2L120.1 156.4L125.5 155.1L124.6 153.6L119.2 153.8L113.7 155.3ZM147.4 157.6L154.7 158.1L158.9 157.2L157.4 155.1L152.9 155.3L148.3 155.9ZM191.1 157.0L191.5 158.5L185.7 159.1L176.6 159.1L169.3 158.7L168.4 156.6L163.8 154.7L171.1 154.9L174.7 157.0L182.0 156.8L189.3 156.6ZM162.9 160.6L167.5 159.8L172.0 160.4L169.3 162.5L165.6 163.8L162.9 162.3ZM154.7 164.8L160.2 163.8L160.2 161.5L155.6 160.0L150.5 161.9L152.0 163.8ZM155.6 169.5L159.3 170.4L162.9 169.7L162.0 168.0L157.4 168.0ZM178.4 178.9L181.1 175.5L183.9 175.2L189.3 178.0L190.6 179.5L186.6 180.8L181.1 180.5ZM173.8 155.7L185.7 155.5L193.0 155.7L194.8 154.7L196.6 152.4L199.3 150.6L205.7 149.0L211.2 147.5L216.6 146.2L222.1 145.1L223.9 143.9L209.4 142.8L194.8 143.0L182.0 144.3L172.9 145.8L176.6 147.7L180.2 149.6L178.4 150.9L176.6 152.8ZM162.9 149.6L167.5 146.2L174.7 148.1L177.5 150.6L171.1 152.1ZM147.4 151.9L154.7 152.8L158.3 151.5L152.9 150.0L146.5 150.6ZM162.0 158.1L166.5 158.7L166.5 157.2L162.9 157.0ZM383.9 165.5L387.9 165.7L393.4 167.0L391.6 168.2L397.0 168.7L402.5 169.3L409.8 171.4L411.6 172.9L411.6 174.0L407.0 175.0L400.7 174.2L396.1 173.1L397.9 174.6L400.3 177.1L400.3 178.0L403.4 178.9L406.1 179.1L405.8 177.4L410.7 177.8L409.8 175.5L413.4 174.4L417.1 174.8L417.6 171.4L416.2 170.2L420.7 171.4L421.6 173.5L424.4 172.1L428.0 171.2L433.5 170.1L435.3 171.0L441.7 170.2L446.2 169.7L448.0 168.0L453.5 168.9L458.1 169.9L460.8 170.8L459.0 169.5L459.0 167.6L458.6 165.7L461.7 162.9L464.4 161.3L469.0 162.3L469.0 165.7L469.9 169.5L470.8 173.3L468.1 174.6L471.7 172.3L472.6 170.4L477.2 172.1L478.1 171.0L471.7 167.6L472.6 163.8L473.5 162.3L479.0 163.2L483.6 163.8L486.9 165.7L488.5 167.0L489.9 166.1L489.0 164.2L486.3 163.2L483.9 161.0L493.6 160.0L495.4 158.1L502.7 157.0L510.0 156.0L519.1 155.3L526.9 153.0L531.9 154.3L541.0 155.3L543.7 157.2L537.3 159.6L530.0 161.9L541.0 160.6L543.7 161.0L551.9 161.3L561.9 161.9L568.3 161.0L571.9 163.4L571.9 165.7L575.6 166.1L579.2 164.8L586.5 164.9L592.0 162.9L593.8 162.3L602.9 163.2L610.2 164.8L614.8 165.9L623.0 165.7L628.4 167.6L630.2 168.5L633.9 168.2L641.2 168.2L647.6 169.5L647.6 167.4L652.1 168.0L659.4 168.5L664.9 169.5L672.1 171.8L677.6 173.3L683.4 175.0L681.3 176.1L678.5 178.0L672.1 177.4L666.7 176.1L666.7 174.6L662.1 177.6L663.0 180.8L663.9 182.2L655.8 183.3L650.3 185.0L647.2 186.5L641.2 186.0L636.6 186.7L634.4 190.3L633.0 190.9L634.4 193.7L632.1 196.0L628.4 199.4L625.3 201.7L622.4 203.6L620.6 199.8L620.4 196.0L620.6 192.2L623.0 190.3L627.5 187.5L631.7 185.6L634.8 183.1L635.7 182.0L629.3 183.7L629.3 185.2L626.6 183.1L622.0 183.7L619.3 187.5L613.8 188.4L612.0 187.5L607.5 187.8L601.1 187.8L596.5 187.8L592.0 190.9L588.3 194.1L583.8 196.6L586.5 197.9L587.4 198.6L591.1 197.5L594.3 199.4L592.9 202.6L592.9 205.5L592.5 208.3L589.2 212.1L584.7 215.9L579.6 219.1L577.2 218.5L575.0 220.0L573.2 222.5L570.7 224.4L569.2 225.7L570.8 227.2L572.7 230.1L572.8 232.9L569.6 234.4L567.2 235.0L567.4 232.0L567.6 229.1L565.2 228.5L564.5 227.2L565.2 225.3L563.4 224.4L560.1 225.3L557.9 226.7L559.2 223.4L558.8 222.7L554.6 224.8L551.5 226.3L552.8 228.2L553.7 229.5L557.0 228.5L560.3 229.5L556.5 231.8L554.3 233.8L556.5 236.7L558.8 239.9L558.8 241.6L557.4 242.4L559.2 243.7L558.3 246.5L556.1 249.0L554.6 251.8L552.3 253.7L549.5 256.0L545.2 257.9L542.8 258.5L539.1 259.4L537.9 261.7L537.0 259.4L534.2 259.2L531.5 260.7L529.7 264.1L530.9 266.4L533.3 269.2L535.9 272.7L536.0 276.4L535.5 278.3L532.2 280.4L531.1 282.1L528.6 283.6L527.8 281.5L527.3 280.4L525.5 280.0L524.4 278.0L522.7 276.4L520.9 276.1L520.7 274.5L519.1 274.9L518.9 277.4L517.6 280.2L517.8 282.5L519.6 284.4L520.0 286.5L522.2 287.4L523.3 288.4L525.1 290.6L525.5 292.5L525.3 295.0L526.8 297.4L525.5 297.6L523.1 295.9L521.5 294.4L520.2 292.1L519.6 289.7L519.3 287.8L518.4 286.8L516.4 285.0L516.4 281.5L516.5 278.3L516.4 275.5L514.9 271.7L514.7 268.9L513.3 267.9L511.8 268.9L510.5 270.2L508.7 269.8L509.1 267.0L508.2 264.1L506.3 262.2L504.9 260.3L504.2 257.9L501.8 257.5L499.1 258.8L495.8 259.4L495.0 261.3L493.2 262.6L490.9 264.7L488.7 266.6L486.7 268.9L484.5 270.2L482.8 271.7L483.2 275.3L482.3 278.3L482.3 280.6L480.8 282.5L479.4 283.4L478.1 284.8L476.3 283.1L475.0 278.7L473.2 275.5L471.7 271.7L470.5 267.9L469.5 264.1L469.4 260.3L469.0 258.1L468.3 260.0L465.9 260.9L463.0 258.1L464.8 256.8L462.3 256.2L461.2 255.2L459.5 254.1L458.8 253.0L458.1 252.0L454.4 252.4L450.4 252.6L449.1 252.6L444.4 252.0L441.3 251.3L440.4 248.8L436.2 249.7L432.6 247.9L429.8 245.6L428.0 242.9L426.0 242.7L424.4 243.5L424.4 245.2L425.6 247.1L428.0 249.6L428.4 251.8L429.5 253.2L429.5 251.6L430.2 250.7L430.9 252.8L430.7 254.1L433.5 254.5L436.2 253.9L437.7 252.2L439.1 250.7L439.7 253.0L440.8 254.7L443.7 255.4L445.9 257.5L443.9 261.3L442.0 264.1L440.8 266.0L437.7 267.4L435.3 267.9L432.0 269.8L428.0 271.7L425.6 273.6L421.6 274.7L418.9 275.9L416.2 276.1L415.6 274.9L414.9 271.7L414.7 269.1L412.5 266.0L409.8 262.2L408.1 259.4L407.0 255.6L404.7 252.8L403.4 250.9L401.0 247.1L400.5 244.3L399.8 247.1L399.2 247.7L397.4 246.0L396.3 243.5L395.8 240.8L399.2 240.8L400.3 239.1L400.9 237.4L401.8 235.4L402.3 233.5L402.7 230.8L400.7 230.6L398.3 231.6L396.1 231.8L392.7 230.4L390.6 231.6L388.3 230.6L386.6 230.1L386.1 228.2L384.8 227.4L385.5 225.7L384.5 225.1L384.6 224.4L387.0 223.6L389.7 223.4L389.9 222.5L392.5 222.1L395.2 221.0L397.9 220.6L400.9 220.6L403.0 221.9L406.1 222.5L409.8 222.5L412.5 221.5L412.5 219.6L409.8 217.9L406.1 215.9L404.3 214.5L405.2 213.2L406.5 212.3L408.5 210.8L405.2 211.1L403.4 211.7L401.2 212.5L400.7 213.6L403.4 214.3L401.4 214.9L398.8 216.1L397.9 215.7L396.1 214.2L398.1 212.8L395.2 212.6L394.3 211.9L392.8 212.1L391.0 214.3L389.2 216.4L389.0 217.8L387.7 218.3L387.0 219.6L388.1 220.8L389.7 222.1L387.9 222.5L386.6 223.1L385.5 223.6L384.6 224.2L384.5 223.2L382.4 222.7L381.4 222.7L380.6 223.6L381.4 224.2L379.5 224.4L378.6 223.4L378.1 224.4L378.8 225.7L379.4 227.0L380.6 227.8L380.8 228.7L379.7 228.4L378.8 228.4L379.2 229.3L379.2 231.0L377.7 231.0L376.4 230.4L375.7 228.7L376.4 227.6L375.2 226.8L374.6 226.3L373.7 225.1L373.2 224.4L372.2 223.4L372.4 221.5L371.9 220.6L370.6 219.6L367.9 218.3L366.8 217.8L364.6 216.4L364.0 214.9L363.1 214.3L361.7 215.1L361.7 213.8L359.7 214.2L359.3 215.9L359.9 216.8L361.7 217.8L362.8 219.6L364.6 220.8L366.4 220.8L366.1 221.7L367.9 222.3L369.7 223.2L370.6 224.2L370.2 224.8L368.2 223.6L367.1 224.8L368.1 226.3L367.0 227.4L365.5 228.4L365.5 227.8L366.1 226.3L365.5 224.4L363.3 223.2L362.8 222.9L360.6 222.1L359.1 221.0L357.1 219.8L356.0 218.7L355.7 217.8L354.8 216.6L353.1 216.1L351.5 217.0L350.2 217.4L347.8 218.5L346.0 217.9L344.2 217.8L342.7 218.3L342.5 219.8L342.7 220.8L340.9 221.7L338.5 222.9L336.9 224.6L336.4 225.5L337.3 226.7L336.0 227.6L335.4 228.9L333.4 230.2L330.5 230.6L328.9 230.6L327.1 231.8L326.0 231.6L325.4 230.8L324.3 229.7L323.4 229.7L320.7 230.1L320.9 228.2L319.6 226.8L320.5 225.1L321.0 222.5L320.7 220.6L320.0 218.7L322.3 217.4L326.5 217.6L330.0 217.8L333.6 217.9L334.7 215.9L334.9 213.8L334.7 212.6L332.9 211.1L332.3 210.4L329.1 209.6L328.2 208.5L330.5 207.7L334.0 208.1L334.0 206.2L334.9 206.6L337.1 206.4L339.6 205.3L339.8 203.7L342.7 203.0L344.2 201.7L345.5 199.8L349.5 199.0L351.7 198.6L352.9 197.9L352.6 196.0L351.7 194.8L351.7 192.2L356.2 190.9L355.7 192.8L356.8 193.5L355.1 195.0L354.2 196.0L355.1 196.9L356.9 197.9L359.1 197.5L361.5 196.9L363.0 198.1L366.1 197.3L370.6 196.6L373.0 196.9L375.2 195.6L375.2 192.6L376.3 191.3L378.1 190.9L379.7 192.2L381.4 190.3L379.7 188.8L379.7 188.0L382.1 187.5L387.9 187.5L391.9 186.7L389.2 185.4L384.3 185.8L382.4 186.1L378.8 186.9L376.1 185.6L375.9 183.7L375.5 181.8L376.3 180.5L378.8 178.9L381.5 177.4L383.2 176.9L381.7 175.5L379.7 175.5L377.0 176.1L375.7 177.8L373.9 179.3L370.6 181.0L368.6 182.2L368.2 185.2L370.6 186.1L371.3 187.3L369.9 187.8L367.9 189.2L367.1 190.7L366.8 192.8L365.7 193.9L363.0 194.8L360.6 195.2L360.0 194.1L358.8 190.9L357.3 188.6L356.2 186.7L355.7 188.2L353.3 189.4L349.7 190.3L347.3 188.6L346.2 186.0L346.0 183.7L346.4 182.4L349.7 181.0L352.8 179.7L354.8 178.9L357.3 177.2L359.3 175.5L360.6 173.8L363.1 172.7L364.2 171.4L367.0 170.2L364.2 169.7L368.8 168.5L371.5 168.0L375.2 167.2L379.7 166.1ZM326.5 205.3L330.5 204.9L334.5 204.1L337.4 203.9L339.5 203.2L338.2 202.6L339.8 201.7L340.0 200.3L337.4 199.8L337.3 198.6L336.5 197.5L334.7 196.6L334.0 195.0L333.1 194.1L330.9 194.1L332.2 193.3L333.3 191.1L329.6 190.9L331.3 189.2L327.8 189.2L326.9 190.7L326.3 192.2L326.9 193.7L326.5 195.4L328.2 195.0L327.8 196.4L330.5 196.2L331.1 197.9L331.4 199.0L328.7 199.2L329.1 200.1L329.4 201.1L327.4 201.9L330.5 202.6L331.8 202.6L329.2 203.2ZM325.6 199.2L325.4 201.3L321.8 202.0L318.7 202.4L318.1 201.3L319.6 199.8L318.7 198.8L319.0 197.3L321.4 196.9L321.8 195.8L323.6 195.4L326.0 195.6L326.9 196.9L326.0 197.9ZM395.8 233.7L397.0 233.1L399.9 232.5L398.8 233.8L397.0 234.6L395.9 234.4ZM356.0 149.6L362.4 149.0L367.9 148.8L371.5 150.6L376.1 151.5L370.6 153.4L367.3 155.1L362.4 153.4L361.5 152.1L356.9 150.9ZM369.7 148.5L377.0 147.9L386.1 148.5L382.4 149.8L373.3 149.6ZM375.2 152.1L379.7 152.1L380.6 153.4L377.0 153.8ZM510.0 146.4L515.5 147.7L520.9 149.6L528.2 151.5L519.1 152.4L517.3 150.9L508.2 149.6L503.6 148.3L506.3 146.8ZM395.8 240.8L393.4 240.5L391.6 241.0L389.7 241.6L386.5 240.7L382.8 240.3L380.4 239.5L378.8 238.4L376.3 237.8L373.5 239.3L373.2 241.8L371.5 242.7L368.8 241.6L365.5 240.5L364.6 238.8L361.0 237.8L357.9 237.3L356.8 236.3L355.3 235.7L356.4 234.4L356.9 232.7L356.2 231.2L357.1 230.1L355.5 229.7L352.6 230.2L349.7 230.1L346.0 230.4L342.4 230.4L338.7 231.2L335.8 232.5L333.3 233.7L331.4 233.3L328.7 233.5L327.2 232.1L326.2 232.3L325.4 234.2L324.5 235.7L323.1 236.5L321.2 237.3L320.0 238.6L319.0 240.5L319.2 242.6L318.3 244.6L316.5 245.8L313.4 247.3L312.5 249.0L310.5 250.5L309.6 253.2L307.7 255.2L306.1 258.5L305.7 260.5L307.2 262.2L306.8 264.1L307.7 265.8L306.8 269.8L305.0 272.3L306.3 274.5L306.3 276.6L307.7 277.8L309.6 279.5L311.9 282.1L312.8 284.0L314.1 286.1L316.3 287.4L317.2 288.2L320.0 290.3L323.2 291.8L326.0 291.0L329.6 290.3L332.3 290.6L333.3 291.2L336.5 289.7L339.1 288.6L341.5 288.2L343.1 288.0L345.1 288.4L346.6 290.1L347.8 292.0L349.7 291.8L352.0 291.6L353.1 292.5L354.6 292.7L354.8 295.4L354.4 298.2L353.8 299.3L352.9 301.4L354.4 304.6L356.9 307.5L358.4 309.2L359.1 311.3L360.6 314.3L361.0 316.8L362.0 320.4L361.3 323.4L359.7 325.7L359.1 328.9L358.4 332.7L360.2 336.1L361.3 339.5L363.3 343.4L363.3 346.5L364.4 350.5L366.8 354.2L368.4 357.8L370.1 360.7L369.5 362.4L370.4 364.3L370.6 365.2L373.3 366.0L377.2 364.7L380.6 364.7L383.5 364.5L387.7 362.6L390.6 359.7L393.4 356.7L395.8 354.1L396.8 351.0L396.3 349.1L397.9 347.8L401.4 345.5L401.6 341.7L400.7 338.9L400.3 337.6L403.0 335.7L404.3 333.8L408.0 331.9L410.7 329.4L411.1 327.5L410.7 324.5L410.5 320.0L409.4 317.1L408.5 313.0L407.8 310.5L408.3 309.0L409.2 307.7L410.3 304.8L412.5 303.3L414.5 300.7L417.1 298.2L419.4 296.3L422.5 292.5L425.3 289.1L427.1 285.9L428.9 282.5L430.0 280.2L430.4 277.8L428.0 278.3L425.3 278.7L421.6 279.7L418.9 280.4L416.5 279.5L415.6 278.3L415.8 276.4L414.2 274.5L411.6 272.3L409.2 270.8L408.0 268.3L407.0 266.0L404.9 263.2L404.3 260.3L403.0 257.5L401.8 254.9L399.8 251.8L398.7 249.0L397.0 246.1L396.1 243.5ZM596.5 320.4L598.9 326.6L601.6 328.5L602.9 333.2L604.4 336.4L607.5 338.5L609.3 341.7L611.7 344.2L614.8 347.4L616.0 351.2L616.8 354.4L615.7 358.8L613.8 362.2L612.4 364.5L610.6 368.2L610.2 371.1L606.6 371.8L603.6 374.1L601.1 372.6L598.4 373.5L594.7 372.6L592.0 371.1L591.1 368.2L589.2 367.5L589.2 366.0L588.0 366.7L588.0 363.5L588.3 362.6L586.5 363.9L584.7 366.0L583.2 365.4L581.4 362.6L580.1 360.9L575.6 359.7L571.9 360.1L566.5 361.2L562.8 362.6L561.9 364.3L555.5 364.3L551.9 366.4L548.3 366.2L546.6 365.0L546.4 363.5L547.7 360.7L546.4 356.9L545.7 354.6L544.1 350.5L543.7 346.5L544.1 342.9L545.0 341.4L547.3 339.9L550.1 339.1L553.0 338.5L555.5 337.8L558.3 335.7L559.5 334.2L560.1 332.3L561.9 332.8L562.1 331.0L563.7 329.4L565.6 327.5L567.9 326.4L570.1 328.1L571.0 328.5L573.0 328.3L573.4 325.7L575.2 323.6L578.3 323.0L578.5 321.5L581.0 322.8L583.8 322.8L586.1 323.2L584.7 325.7L583.8 328.1L586.1 330.2L589.2 331.9L591.1 333.2L593.6 333.0L594.7 329.4L595.1 325.7L595.1 323.8L595.6 320.9ZM575.6 301.6L578.3 300.9L581.0 301.6L581.4 303.9L582.0 306.3L583.8 306.3L585.6 304.3L588.3 303.1L593.3 305.0L597.4 306.5L600.2 307.3L602.5 309.9L604.7 311.5L606.2 312.0L604.7 313.0L606.6 315.2L608.4 317.1L611.1 319.4L608.4 319.6L605.1 318.1L602.9 315.4L600.2 314.7L598.4 315.8L597.4 317.5L593.8 317.3L591.1 315.6L588.3 316.0L589.8 313.4L588.3 310.5L584.7 308.8L581.0 307.5L579.2 307.7L578.9 305.4L577.4 305.6L575.6 302.9Z" fill="none" stroke="#7a7a7a" stroke-width="0.95" stroke-linejoin="round"/>
<path d="M228.9 210.0L230.7 207.0L232.5 204.3L235.8 202.4L234.9 204.5L235.8 206.4L239.4 206.8L240.9 210.0L239.8 211.9L237.6 211.3L235.8 211.1L234.9 210.0ZM482.7 281.5L484.8 284.0L485.9 286.3L485.6 288.0L483.8 288.9L482.7 288.4L482.3 285.9L482.5 283.4ZM426.7 322.8L428.4 326.6L428.9 329.4L427.6 331.3L427.1 334.2L425.3 339.9L423.4 344.6L422.5 347.4L419.8 348.6L417.1 347.4L416.3 344.6L415.8 341.7L417.1 338.0L417.8 334.2L417.1 332.3L418.9 330.4L421.6 329.8L424.0 328.1L424.9 325.7ZM510.5 289.5L514.5 290.3L516.0 292.5L519.1 295.4L521.8 296.9L524.6 299.2L526.0 302.0L527.3 303.9L530.0 305.8L529.8 309.6L529.5 311.3L527.3 310.9L524.6 308.6L523.1 307.3L520.9 304.5L519.6 301.8L517.3 298.2L515.5 295.4L513.6 293.5L511.8 291.6ZM528.6 313.0L530.2 311.3L531.9 311.3L534.6 312.4L538.2 313.2L539.1 312.2L542.2 313.2L545.3 314.9L545.5 316.6L541.9 316.0L537.3 315.1L533.7 314.9L530.9 314.1ZM549.7 316.2L551.9 315.6L553.7 316.0L553.7 316.8L550.1 317.1ZM555.4 316.0L558.3 316.2L561.0 315.8L560.6 316.6L557.4 316.9L555.4 316.8ZM553.7 318.1L555.9 317.9L557.0 319.0L555.5 319.4L554.1 318.7ZM561.9 319.6L564.6 317.1L568.3 316.0L568.7 316.4L564.6 318.7L562.8 319.6ZM536.6 296.3L539.1 297.1L539.9 295.0L542.8 294.0L544.6 291.6L547.0 290.3L548.4 288.7L550.1 286.8L551.3 288.0L552.1 289.1L554.1 290.3L552.4 291.8L551.2 293.9L551.9 295.9L553.7 298.2L551.3 299.0L551.0 301.0L549.2 303.3L548.8 305.8L548.3 307.7L545.7 307.9L545.5 306.5L542.8 306.3L540.4 305.8L537.7 305.6L537.5 302.9L535.9 301.0L535.5 298.6ZM557.0 297.6L561.0 298.3L564.3 297.1L565.0 297.4L563.4 299.3L561.0 299.2L557.4 299.2L555.9 300.1L555.7 301.8L558.3 301.8L561.7 301.4L561.6 302.0L559.2 303.3L558.3 303.9L559.5 306.2L561.4 307.7L560.6 309.2L558.3 309.0L557.7 305.8L557.2 305.2L556.3 306.7L556.3 310.5L554.6 310.5L554.6 306.7L553.4 305.4L554.3 302.6L555.2 300.1L555.5 298.6ZM569.2 296.3L570.1 296.9L571.4 297.3L570.1 299.0L571.4 299.5L570.1 301.4L569.6 299.3L569.2 298.2ZM569.9 306.2L572.8 305.4L575.2 306.5L572.8 306.7L570.5 306.7ZM566.5 306.2L568.3 306.2L568.7 306.9L566.8 307.3Z" fill="#e9e9e9" stroke="#858585" stroke-width="0.85" stroke-linejoin="round"/>
<path d="M202.3 379.2L203.2 380.2L202.8 382.1L201.3 381.9L201.7 380.0ZM225.4 397.4L228.5 397.2L231.6 397.8L230.3 398.9L227.6 398.9L225.8 398.5ZM267.7 402.3L271.3 402.9L271.7 403.8L268.6 403.1ZM237.1 168.3L240.3 168.9L242.2 167.8L239.4 167.0L237.1 167.2ZM295.9 179.1L299.9 179.9L302.6 180.1L307.7 178.9L310.5 178.2L312.3 177.1L310.5 175.2L307.7 174.2L304.1 175.0L299.9 175.7L298.1 176.1L295.9 174.4L293.2 175.5L293.5 176.3L296.8 176.5L293.2 177.2L296.8 178.0ZM219.7 211.5L223.9 212.3L223.0 213.0L220.3 212.6ZM219.4 205.6L223.9 206.6L224.5 207.2L221.2 206.8ZM103.0 203.9L108.2 205.1L111.9 208.3L109.5 208.1L106.4 206.4ZM94.6 197.7L96.9 197.9L97.9 201.1L95.5 199.8ZM55.0 191.6L59.0 189.9L60.0 191.3L57.2 192.4ZM23.9 179.9L29.0 180.5L29.3 180.1L26.2 179.5ZM32.1 186.1L35.0 185.8L35.0 186.7L32.6 186.9ZM29.9 199.0L33.5 197.9L33.9 198.6L30.8 199.6ZM36.3 196.7L39.0 196.0L39.4 196.6L36.8 197.1ZM182.2 258.6L185.7 256.6L186.8 256.2L190.2 256.4L193.0 257.7L195.7 258.8L198.4 260.0L201.7 261.7L199.3 262.4L195.3 262.6L196.2 261.1L193.9 259.4L190.2 258.8L187.9 258.1L186.0 257.3L183.9 258.5ZM201.3 265.3L205.0 265.1L203.2 262.6L206.3 262.6L209.4 262.8L212.3 264.9L210.3 265.3L208.4 265.6L206.6 266.8L204.8 265.8ZM194.2 265.5L196.1 265.1L197.9 265.8L197.5 266.2L195.7 266.4ZM214.5 265.3L217.2 265.5L217.0 266.0L214.5 266.0ZM224.1 279.8L225.8 279.7L225.8 281.0L224.1 281.0ZM194.4 252.6L195.3 253.0L195.5 254.7L194.4 253.9ZM193.1 249.6L195.0 249.6L196.2 250.1L196.4 250.7L195.7 250.1L193.3 249.9ZM52.7 261.9L54.5 262.6L53.4 264.1L52.7 263.2ZM170.2 300.7L171.1 300.7L171.1 302.0L170.2 301.8ZM224.2 269.4L224.8 268.9L225.5 269.4L224.8 270.0ZM224.8 270.9L225.2 270.4L225.6 270.9L225.2 271.5ZM225.3 272.5L225.8 271.9L226.2 272.5L225.8 273.0ZM225.4 273.8L225.8 273.3L226.1 273.8L225.8 274.3ZM225.0 275.1L225.4 274.7L225.8 275.1L225.4 275.5ZM224.1 277.2L224.5 276.8L224.8 277.2L224.5 277.6ZM228.1 275.1L228.5 274.7L228.9 275.1L228.5 275.5ZM223.9 267.7L224.3 267.4L224.7 267.7L224.3 268.1ZM222.3 267.4L222.7 267.0L223.0 267.4L222.7 267.7ZM218.3 265.5L218.8 265.2L219.4 265.5L218.8 265.7ZM221.7 265.6L222.1 265.4L222.5 265.6L222.1 265.9ZM210.6 277.0L211.2 276.7L211.7 277.0L211.2 277.3ZM209.1 276.4L209.4 276.2L209.6 276.4L209.4 276.7ZM212.2 277.0L212.5 276.7L212.7 277.0L212.5 277.3ZM219.7 279.3L220.3 279.0L220.9 279.3L220.3 279.6ZM225.9 278.8L226.3 278.6L226.7 278.8L226.3 279.0ZM195.4 252.7L195.9 252.5L196.3 252.7L195.9 252.9ZM197.8 252.6L198.1 251.6L198.3 252.6L198.1 253.5ZM199.1 254.1L199.3 253.5L199.6 254.1L199.3 254.7ZM199.8 256.0L200.1 255.1L200.3 256.0L200.1 256.8ZM198.1 255.4L198.4 255.0L198.8 255.4L198.4 255.8ZM201.5 257.5L202.1 257.0L202.6 257.5L202.1 258.0ZM202.6 260.2L203.3 259.8L204.1 260.2L203.3 260.5ZM205.4 258.8L206.1 258.5L206.8 258.8L206.1 259.1ZM203.4 257.7L203.9 257.5L204.3 257.7L203.9 257.9ZM201.0 254.6L201.2 254.3L201.3 254.6L201.2 254.9ZM196.2 249.9L196.4 249.1L196.7 249.9L196.4 250.8ZM188.6 263.6L189.0 263.4L189.3 263.6L189.0 263.8ZM185.4 259.0L186.0 258.5L186.7 259.0L186.0 259.5ZM178.3 261.5L178.6 261.0L178.8 261.5L178.6 262.0ZM218.7 239.0L218.9 238.8L219.2 239.0L218.9 239.1ZM51.5 260.7L52.1 260.3L52.8 260.7L52.1 261.1ZM48.6 259.4L49.0 259.1L49.5 259.4L49.0 259.7ZM45.9 258.4L46.3 258.0L46.7 258.4L46.3 258.7ZM50.3 260.1L50.8 259.9L51.4 260.1L50.8 260.2ZM190.4 182.7L191.5 182.1L192.6 182.7L191.5 183.4ZM184.9 181.6L186.6 180.9L188.2 181.6L186.6 182.3ZM187.7 199.8L188.8 199.4L189.9 199.8L188.8 200.1ZM191.7 193.7L192.4 192.8L193.1 193.7L192.4 194.7ZM195.7 171.9L197.5 171.0L199.3 171.9L197.5 172.9ZM191.1 161.5L193.9 160.8L196.6 161.5L193.9 162.3ZM217.7 183.7L218.5 183.3L219.2 183.7L218.5 184.1ZM131.0 153.0L133.7 152.3L136.5 153.0L133.7 153.8ZM131.9 151.5L134.7 150.9L137.4 151.5L134.7 152.1ZM158.3 152.1L161.1 151.3L163.8 152.1L161.1 152.8ZM119.5 156.6L121.0 156.0L122.5 156.6L121.0 157.2ZM143.6 161.0L144.7 160.4L145.8 161.0L144.7 161.5ZM146.3 155.3L147.4 154.9L148.5 155.3L147.4 155.7ZM144.0 153.6L145.0 153.0L146.1 153.6L145.0 154.1ZM88.2 190.7L89.5 189.7L90.7 190.7L89.5 191.6ZM90.2 192.4L90.9 191.3L91.7 192.4L90.9 193.5ZM93.8 194.8L94.9 193.5L96.0 194.8L94.9 196.2ZM91.7 191.1L92.2 190.1L92.8 191.1L92.2 192.0ZM93.1 192.6L94.0 192.0L94.9 192.6L94.0 193.1ZM97.0 194.8L97.7 194.1L98.3 194.8L97.7 195.6ZM58.1 189.7L59.0 189.4L60.0 189.7L59.0 190.1ZM29.2 199.4L30.3 199.0L31.4 199.4L30.3 199.8ZM31.9 198.4L33.0 198.1L34.1 198.4L33.0 198.8ZM26.4 191.8L26.8 191.6L27.2 191.8L26.8 192.0ZM200.4 384.3L201.2 383.2L201.9 384.3L201.2 385.5ZM199.9 393.4L200.6 391.7L201.3 393.4L200.6 395.1ZM199.9 396.6L200.6 395.7L201.3 396.6L200.6 397.6ZM204.3 402.9L205.7 402.3L207.2 402.9L205.7 403.5ZM208.4 404.8L210.3 404.4L212.1 404.8L210.3 405.2ZM212.3 404.4L213.6 404.1L214.8 404.4L213.6 404.7ZM218.8 403.8L219.7 403.6L220.7 403.8L219.7 404.0ZM202.8 384.7L203.5 384.1L204.3 384.7L203.5 385.3ZM193.1 363.7L193.3 363.5L193.6 363.7L193.3 363.9ZM288.4 410.8L288.6 410.7L288.8 410.8L288.6 411.0ZM357.3 194.7L359.7 194.1L359.9 195.2L358.8 196.2L357.3 195.6ZM354.8 195.0L356.4 195.0L356.4 196.0L355.1 195.8ZM370.1 191.8L371.5 190.5L371.2 191.4L370.4 192.2ZM376.8 189.7L378.8 189.2L379.2 189.5L377.3 190.3ZM352.6 219.8L354.0 218.7L354.2 220.6L353.7 221.7L352.8 221.4ZM351.8 222.7L353.7 222.1L354.6 223.4L354.4 225.9L353.1 226.3L352.2 225.9L352.4 224.0ZM359.5 228.2L361.5 227.8L365.3 227.6L364.4 229.5L364.4 230.6L363.0 230.1L359.7 228.9ZM379.7 232.7L381.5 233.1L384.8 233.3L384.6 233.8L381.9 234.0L379.7 233.5ZM341.3 225.1L342.5 224.6L343.1 224.9L342.4 225.7ZM378.8 226.3L381.0 227.0L381.7 228.2L380.6 227.4ZM387.4 231.6L388.3 231.2L388.1 232.0ZM384.1 225.9L385.4 225.7L385.0 226.3ZM430.7 164.2L432.6 162.3L435.3 161.0L438.0 158.7L441.7 157.2L448.0 155.9L455.3 154.7L461.7 154.3L461.7 155.3L453.5 156.6L446.2 158.1L442.6 160.0L439.8 161.9L438.9 163.8L441.7 166.1L437.1 166.5L433.5 165.9ZM424.9 168.9L427.1 168.5L428.0 169.5L426.2 170.1ZM443.5 167.0L446.2 166.8L446.8 168.0L444.4 168.2ZM418.9 147.5L424.4 147.1L428.0 147.9L422.5 148.5ZM433.5 148.1L438.9 147.0L444.4 146.8L449.9 147.5L444.4 148.5L438.9 148.7ZM437.1 146.2L442.6 145.3L446.2 146.0L440.8 146.6ZM586.5 157.6L590.2 156.0L597.4 156.6L601.1 157.4L595.6 158.5L590.2 158.7ZM603.8 157.4L611.1 157.7L610.2 158.5L604.7 158.3ZM592.0 160.2L597.4 160.8L596.5 161.5L592.0 161.2ZM662.1 165.5L665.8 164.8L669.4 165.3L666.7 166.1L663.0 166.1ZM595.6 197.3L597.4 199.8L598.0 202.6L598.4 205.5L600.2 207.3L597.1 210.2L598.4 212.5L595.6 213.0L595.6 209.2L595.6 205.5L595.3 201.7ZM592.0 220.6L592.5 218.1L594.3 218.1L595.1 214.2L597.4 215.9L601.6 216.2L602.0 218.1L599.3 218.9L598.0 220.6L595.1 219.5L593.3 219.6L593.6 221.0L592.0 221.5ZM593.6 221.5L594.7 223.4L595.6 225.3L593.8 227.6L593.8 230.1L593.4 232.5L591.6 233.8L591.4 232.7L589.8 234.4L586.9 234.6L586.3 235.2L584.3 236.7L583.1 235.2L580.1 235.0L578.0 235.4L575.6 235.7L575.9 234.8L578.7 232.9L581.6 232.7L584.7 232.5L586.0 230.2L587.1 229.1L587.1 230.4L589.2 229.3L590.9 227.6L592.0 224.8L592.0 223.1L592.5 222.1ZM575.4 235.9L576.9 237.3L577.0 239.5L575.6 241.4L574.7 241.0L574.1 239.1L573.2 237.6L574.1 236.5ZM578.3 236.1L581.0 235.2L582.3 236.1L581.4 237.1L579.2 238.0L578.1 237.1ZM602.9 216.1L605.6 214.5L608.0 214.0L605.6 215.3ZM610.2 212.6L612.0 211.5L614.4 210.6L612.0 212.1ZM619.9 205.3L621.3 203.9L621.5 204.9ZM558.3 252.2L559.2 253.7L557.9 256.9L557.0 258.5L555.7 256.6L556.8 253.7ZM538.2 262.1L539.1 263.0L538.2 264.7L536.4 265.6L535.0 264.5L535.1 263.0L536.8 262.2ZM566.8 236.9L568.1 236.7L567.6 237.3ZM437.7 249.6L439.5 249.0L439.3 249.4ZM434.0 276.2L436.2 276.2L435.7 276.8ZM505.8 274.5L506.5 275.5L506.2 278.1L505.6 277.4ZM323.6 182.7L324.1 182.3L324.7 182.7L324.1 183.2ZM334.3 186.0L334.5 185.2L334.8 186.0L334.5 186.7ZM331.0 188.4L331.4 188.1L331.9 188.4L331.4 188.7ZM324.1 190.1L324.7 189.5L325.2 190.1L324.7 190.8ZM323.4 191.6L323.6 191.0L323.8 191.6L323.6 192.3ZM325.0 191.6L325.4 191.3L325.9 191.6L325.4 191.9ZM325.6 193.2L326.0 193.0L326.3 193.2L326.0 193.5ZM325.3 194.6L325.6 194.3L325.9 194.6L325.6 194.8ZM328.5 197.4L328.7 197.1L328.9 197.4L328.7 197.7ZM334.3 204.2L334.5 204.1L334.8 204.2L334.5 204.3ZM332.7 206.8L332.9 206.7L333.1 206.8L332.9 206.9ZM330.9 210.6L331.1 210.4L331.3 210.6L331.1 210.7ZM334.4 213.2L334.5 213.0L334.6 213.2L334.5 213.4ZM339.2 226.4L339.5 226.2L339.7 226.4L339.5 226.6ZM344.0 224.5L344.4 224.4L344.7 224.5L344.4 224.6ZM355.4 219.1L355.7 219.0L355.9 219.1L355.7 219.2ZM362.9 232.1L363.1 232.0L363.4 232.1L363.1 232.3ZM358.7 230.4L358.8 230.3L358.9 230.4L358.8 230.5ZM359.8 232.9L359.9 232.8L359.9 232.9L359.9 233.0ZM372.8 225.1L373.0 224.8L373.2 225.1L373.0 225.5ZM374.2 227.8L374.4 227.5L374.7 227.8L374.4 228.1ZM374.6 228.5L374.8 228.4L375.0 228.5L374.8 228.7ZM374.4 226.8L374.5 226.6L374.6 226.8L374.5 227.1ZM378.7 231.5L378.8 231.3L378.9 231.5L378.8 231.7ZM383.1 230.0L383.4 229.7L383.6 230.0L383.4 230.2ZM382.0 228.4L382.2 228.3L382.4 228.4L382.2 228.6ZM384.1 227.4L384.3 227.0L384.5 227.4L384.3 227.8ZM385.4 228.6L385.7 228.5L386.1 228.6L385.7 228.8ZM385.9 230.3L386.3 230.2L386.6 230.3L386.3 230.4ZM386.3 232.7L386.4 232.2L386.5 232.7L386.4 233.2ZM382.4 224.6L382.8 224.4L383.2 224.6L382.8 224.8ZM381.6 223.1L381.8 222.9L382.0 223.1L381.8 223.2ZM383.3 223.5L383.5 223.4L383.6 223.5L383.5 223.6ZM381.5 226.6L381.6 226.3L381.8 226.6L381.6 226.8ZM381.2 230.6L381.4 230.5L381.5 230.6L381.4 230.7ZM382.6 230.0L382.7 229.8L382.9 230.0L382.7 230.1ZM384.2 228.9L384.5 228.8L384.9 228.9L384.5 229.0ZM383.7 224.1L384.0 224.0L384.3 224.1L384.0 224.2ZM367.2 192.8L367.3 191.6L367.4 192.8L367.3 193.9ZM377.7 188.6L378.3 188.3L378.8 188.6L378.3 188.9ZM363.8 195.7L364.0 195.6L364.3 195.7L364.0 195.9ZM357.2 196.4L357.9 196.2L358.5 196.4L357.9 196.5ZM358.6 196.4L358.8 196.1L358.9 196.4L358.8 196.6ZM372.7 186.0L373.3 185.8L374.0 186.0L373.3 186.3ZM357.0 197.0L357.2 196.9L357.4 197.0L357.2 197.1ZM354.8 196.1L354.9 195.9L355.0 196.1L354.9 196.3ZM356.8 191.7L356.9 191.6L357.1 191.7L356.9 191.8ZM345.6 199.6L345.6 199.4L345.7 199.6L345.6 199.8ZM364.8 170.2L365.7 169.7L366.6 170.2L365.7 170.8ZM367.7 168.9L368.4 168.5L369.1 168.9L368.4 169.3ZM363.3 169.9L363.9 169.3L364.4 169.9L363.9 170.4ZM361.0 171.0L362.0 170.8L363.1 171.0L362.0 171.2ZM360.1 171.5L360.6 171.3L361.0 171.5L360.6 171.6ZM377.2 166.5L378.1 166.2L379.0 166.5L378.1 166.7ZM370.2 168.2L370.8 167.9L371.3 168.2L370.8 168.4ZM371.2 167.7L371.5 167.5L371.9 167.7L371.5 167.8ZM358.4 175.8L358.6 175.7L358.8 175.8L358.6 175.9ZM352.2 179.8L352.8 179.7L353.3 179.8L352.8 179.9ZM351.3 180.1L351.5 180.0L351.7 180.1L351.5 180.2ZM321.0 165.7L321.8 165.5L322.5 165.7L321.8 165.9ZM371.2 159.2L371.5 159.0L371.9 159.2L371.5 159.4ZM386.8 150.7L387.9 150.6L389.0 150.7L387.9 150.9ZM395.4 148.4L396.1 148.2L396.8 148.4L396.1 148.5ZM356.8 151.5L356.9 150.7L357.1 151.5L356.9 152.3ZM382.3 155.2L382.4 155.0L382.6 155.2L382.4 155.4ZM474.6 161.0L475.4 160.9L476.1 161.0L475.4 161.1ZM480.3 162.2L481.2 162.0L482.1 162.2L481.2 162.4ZM481.5 159.1L481.7 159.0L482.0 159.1L481.7 159.2ZM481.5 147.1L481.7 147.0L482.0 147.1L481.7 147.3ZM476.8 149.6L477.2 149.5L477.6 149.6L477.2 149.7ZM487.0 153.4L487.2 153.3L487.4 153.4L487.2 153.5ZM501.8 146.6L502.3 146.5L502.9 146.6L502.3 146.7ZM531.1 152.4L531.9 152.2L532.6 152.4L531.9 152.5ZM541.0 159.5L541.9 159.2L542.8 159.5L541.9 159.7ZM584.1 157.2L584.3 156.8L584.6 157.2L584.3 157.6ZM584.5 159.9L584.7 159.6L584.9 159.9L584.7 160.3ZM608.6 154.9L608.9 154.8L609.3 154.9L608.9 155.0ZM621.9 154.1L622.0 154.1L622.2 154.1L622.0 154.2ZM643.0 167.9L643.9 167.6L644.8 167.9L643.9 168.1ZM672.9 165.0L673.1 165.0L673.2 165.0L673.1 165.1ZM684.8 175.5L684.9 175.4L685.0 175.5L684.9 175.6ZM678.5 177.5L678.7 177.4L678.9 177.5L678.7 177.7ZM594.1 212.5L594.2 212.5L594.3 212.5L594.2 212.6ZM597.7 193.3L597.8 193.3L597.9 193.3L597.8 193.4ZM610.9 188.3L611.1 188.2L611.3 188.3L611.1 188.4ZM608.3 188.1L608.4 188.1L608.5 188.1L608.4 188.2ZM602.4 216.6L602.9 216.3L603.5 216.6L602.9 216.9ZM604.1 217.2L604.3 217.1L604.5 217.2L604.3 217.3ZM575.3 229.1L575.4 229.0L575.5 229.1L575.4 229.2ZM571.0 234.1L571.2 234.0L571.4 234.1L571.2 234.3ZM566.8 234.9L566.9 234.8L567.1 234.9L566.9 235.0ZM559.3 243.1L559.5 243.0L559.8 243.1L559.5 243.3ZM557.9 240.3L558.5 240.2L559.0 240.3L558.5 240.4ZM555.1 251.8L555.2 251.6L555.3 251.8L555.2 252.0ZM552.4 253.8L552.5 253.7L552.6 253.8L552.5 253.9ZM554.7 255.4L554.8 255.3L554.9 255.4L554.8 255.6ZM550.1 255.7L550.2 255.7L550.3 255.7L550.2 255.8ZM535.6 260.3L535.7 260.2L535.8 260.3L535.7 260.3ZM531.7 260.7L531.9 260.6L532.0 260.7L531.9 260.8ZM526.2 280.7L526.4 280.3L526.5 280.7L526.4 281.1ZM531.0 283.6L531.1 283.6L531.2 283.6L531.1 283.7ZM523.3 277.3L523.4 277.1L523.5 277.3L523.4 277.5ZM519.0 282.1L519.1 282.0L519.2 282.1L519.1 282.3ZM518.6 288.1L518.7 288.0L518.9 288.1L518.7 288.2ZM526.6 294.8L526.7 294.6L526.7 294.8L526.7 295.0ZM507.3 264.5L507.4 264.3L507.6 264.5L507.4 264.7ZM502.7 257.9L502.9 257.6L503.0 257.9L502.9 258.2ZM502.0 257.7L502.2 257.1L502.3 257.7L502.2 258.3ZM503.4 257.5L503.5 257.3L503.6 257.5L503.5 257.7ZM481.2 282.5L481.4 282.5L481.5 282.5L481.4 282.6ZM428.5 244.7L428.5 244.7L428.6 244.7L428.5 244.8ZM428.8 250.8L429.0 250.4L429.2 250.8L429.0 251.1ZM435.2 249.8L435.3 249.8L435.4 249.8L435.3 249.9ZM443.9 261.4L444.0 260.8L444.2 261.4L444.0 262.0ZM438.8 267.0L438.9 266.9L439.1 267.0L438.9 267.0ZM414.4 271.0L414.5 270.9L414.6 271.0L414.5 271.2ZM412.9 268.4L413.2 268.2L413.6 268.4L413.2 268.6ZM409.7 270.4L410.0 270.2L410.2 270.4L410.0 270.6ZM431.8 277.0L432.0 276.9L432.2 277.0L432.0 277.1ZM433.6 226.3L433.6 225.9L433.7 226.3L433.6 226.7ZM387.0 223.2L387.2 223.1L387.4 223.2L387.2 223.2ZM289.9 228.5L290.4 228.4L291.0 228.5L290.4 228.7ZM287.1 226.8L287.3 226.7L287.6 226.8L287.3 227.0ZM284.7 227.2L285.2 227.1L285.6 227.2L285.2 227.3ZM279.9 225.4L280.1 225.3L280.2 225.4L280.1 225.6ZM305.6 238.1L305.9 238.0L306.3 238.1L305.9 238.2ZM307.0 237.5L307.1 237.4L307.2 237.5L307.1 237.6ZM311.9 245.1L312.1 244.9L312.3 245.1L312.1 245.3ZM304.2 245.8L304.4 245.5L304.5 245.8L304.4 246.1ZM305.4 246.9L305.5 246.8L305.6 246.9L305.5 247.0ZM304.0 247.6L304.1 247.5L304.2 247.6L304.1 247.6ZM306.1 246.3L307.4 246.1L306.8 246.9ZM308.1 246.9L308.8 246.9L308.7 247.5ZM310.8 246.0L311.6 245.8L311.0 246.9ZM293.5 271.1L294.3 271.3L294.1 271.9ZM290.8 267.7L291.3 267.7L291.2 268.1ZM352.4 293.1L353.1 293.1L352.8 293.9ZM348.7 299.3L349.1 299.5L348.7 300.1ZM415.6 321.7L416.2 322.1L415.8 322.6ZM418.9 324.1L419.4 324.3L419.1 324.7ZM441.5 338.0L442.2 338.3L441.7 338.9ZM437.7 339.7L438.6 340.0L438.0 340.6ZM408.3 311.1L408.9 311.6L408.7 312.4ZM437.8 308.8L438.2 309.0L438.0 309.2ZM600.5 377.1L603.8 377.9L607.1 377.5L607.1 379.6L606.4 381.9L603.8 382.6L602.0 381.3L601.1 379.6ZM585.8 367.7L587.6 367.5L588.5 368.1L586.5 368.2ZM574.3 321.7L576.1 321.5L576.3 322.4L574.7 322.4ZM585.4 326.2L586.3 326.2L586.1 327.2L585.4 327.0ZM651.6 365.2L654.5 366.9L655.4 369.8L656.7 369.2L657.6 371.3L661.2 371.3L662.1 371.5L661.2 373.4L659.9 374.3L659.2 374.9L658.5 377.3L656.3 378.8L655.4 378.3L656.1 376.2L655.4 375.4L653.6 374.5L655.0 373.5L655.2 371.1L654.3 369.2L652.5 366.7ZM651.6 376.8L653.6 377.5L654.5 379.0L653.4 380.4L651.7 382.4L652.3 383.0L649.0 384.1L648.1 387.0L645.7 388.3L643.5 388.3L640.3 387.2L642.1 384.9L643.9 383.4L647.6 381.5L648.8 380.4L649.9 378.7L650.6 377.3ZM642.1 388.7L643.4 388.9L642.6 389.6ZM542.2 313.4L544.6 313.2L544.6 313.7L542.4 313.7ZM545.5 315.6L547.7 315.6L546.8 316.8ZM548.3 315.8L549.5 315.8L549.2 316.9L548.3 316.8ZM528.6 303.1L530.4 303.1L531.3 305.8L529.7 304.8ZM532.9 305.0L534.2 305.2L533.7 306.2ZM513.8 297.4L514.7 298.0L515.3 299.0L514.4 298.4ZM516.7 302.0L517.8 303.1L517.3 303.5ZM560.3 308.8L561.4 309.0L561.0 310.7L560.3 310.3ZM581.4 311.1L582.5 311.5L582.1 313.2L581.2 312.4ZM575.9 314.1L576.9 314.1L576.5 315.2ZM607.1 310.7L610.2 309.6L612.9 308.1L614.4 308.2L613.8 310.5L611.1 311.8L608.4 311.8ZM611.7 305.0L613.8 306.2L615.7 308.6L614.8 308.1L612.9 306.2ZM618.6 310.3L620.2 311.5L620.9 313.0L619.7 312.4ZM622.0 312.8L623.9 313.9L623.5 314.3ZM627.5 317.7L629.3 317.9L629.9 318.8L628.1 318.7ZM629.7 316.0L630.8 317.7L630.2 317.7ZM630.8 319.4L632.6 320.0L631.7 320.4ZM640.4 327.9L641.5 328.9L640.8 329.6ZM641.5 330.4L642.6 331.0L642.1 331.5ZM635.7 338.1L638.4 339.7L641.2 342.1L640.3 342.3L637.5 340.6ZM659.9 333.2L662.3 333.2L662.1 334.6L660.1 334.4ZM662.5 331.3L664.9 330.8L663.9 331.9ZM556.6 265.1L559.5 265.3L559.5 267.9L558.3 269.8L558.5 272.1L560.1 273.2L562.6 274.0L563.0 276.2L561.4 275.1L559.9 274.4L557.7 274.4L556.6 273.0L555.9 272.1L555.4 269.2L556.3 268.3L556.3 266.4ZM556.3 274.7L557.7 274.7L558.3 276.2L557.5 277.0L556.8 275.9ZM565.6 281.5L567.2 284.0L567.4 286.8L566.8 288.2L565.7 286.7L565.2 289.5L562.8 288.2L562.8 286.3L561.6 285.9L559.4 287.0L559.5 285.1L561.6 283.8L563.7 284.0ZM563.4 276.4L565.2 276.4L565.9 278.9L564.6 279.1L564.3 277.8ZM563.6 278.5L564.6 278.7L565.0 280.8L564.3 281.2L563.7 279.7ZM559.0 277.6L561.2 278.3L560.6 279.7L559.2 280.2L559.0 278.9ZM559.9 279.8L561.9 279.5L561.4 282.9L560.3 282.3ZM561.7 280.2L562.8 278.9L562.8 280.2L561.7 282.1ZM562.5 281.4L563.7 281.0L563.7 281.7L562.6 281.9ZM550.4 284.2L551.9 282.5L554.3 280.2L554.6 278.7L553.9 280.4L551.9 283.3L550.6 284.6ZM561.4 276.4L562.8 277.4L562.1 277.6ZM569.6 250.7L570.7 249.4L570.1 250.3ZM600.4 274.7L600.9 274.4L600.7 274.9ZM582.0 286.1L582.3 285.5L582.1 286.3ZM652.1 297.4L652.5 297.3L652.3 297.6ZM648.6 286.7L649.2 286.5L648.8 286.8ZM625.0 287.0L625.3 286.8L625.1 287.2ZM613.3 286.1L613.7 285.9L613.5 286.3ZM640.8 301.0L641.2 301.0L641.0 301.2ZM663.2 316.2L663.6 316.2L663.4 316.4ZM602.2 271.3L602.5 270.9L602.7 271.3L602.5 271.7ZM602.0 271.8L602.2 271.6L602.4 271.8L602.2 272.0ZM601.2 273.3L601.5 273.2L601.7 273.3L601.5 273.5ZM602.4 265.8L602.5 265.6L602.7 265.8L602.5 266.1ZM602.1 264.5L602.3 264.3L602.5 264.5L602.3 264.7ZM602.1 269.1L602.4 269.0L602.6 269.1L602.4 269.3ZM602.4 266.8L602.5 266.6L602.7 266.8L602.5 266.9ZM633.7 290.1L633.9 289.9L634.1 290.1L633.9 290.3ZM642.2 283.1L642.4 282.8L642.7 283.1L642.4 283.3ZM588.3 282.1L588.5 281.9L588.7 282.1L588.5 282.3ZM651.9 297.4L652.1 297.3L652.3 297.4L652.1 297.6ZM654.7 301.2L654.8 301.0L655.0 301.2L654.8 301.5ZM656.5 302.8L656.7 302.5L656.8 302.8L656.7 303.0ZM651.7 294.2L651.9 294.0L652.1 294.2L651.9 294.5ZM640.3 263.6L640.4 263.5L640.6 263.6L640.4 263.7ZM621.7 313.4L623.0 312.9L624.2 313.4L623.0 313.8ZM623.0 315.6L623.9 315.2L624.8 315.6L623.9 316.0ZM625.1 315.2L626.6 314.9L628.1 315.2L626.6 315.6ZM638.8 320.4L639.2 320.1L639.5 320.4L639.2 320.6ZM643.2 333.6L643.5 333.3L643.9 333.6L643.5 333.9ZM645.1 335.7L645.4 335.4L645.6 335.7L645.4 336.0ZM645.3 337.0L645.5 336.8L645.8 337.0L645.5 337.2ZM641.8 327.2L642.1 326.9L642.4 327.2L642.1 327.5ZM641.1 339.9L641.5 339.6L642.0 339.9L641.5 340.1ZM642.6 340.8L643.0 340.6L643.4 340.8L643.0 341.0ZM603.8 304.1L604.7 303.8L605.6 304.1L604.7 304.3ZM583.9 302.0L584.7 301.6L585.5 302.0L584.7 302.4ZM584.0 303.5L585.1 303.3L586.1 303.5L585.1 303.7ZM574.3 300.5L575.2 300.2L576.1 300.5L575.2 300.8ZM573.2 303.7L573.9 303.5L574.7 303.7L573.9 303.9ZM568.8 302.9L569.6 302.7L570.3 302.9L569.6 303.2ZM564.1 303.7L565.6 303.5L567.0 303.7L565.6 303.9ZM561.0 302.9L561.6 302.7L562.1 302.9L561.6 303.2ZM570.4 295.7L570.8 295.2L571.3 295.7L570.8 296.3ZM567.7 292.1L567.9 291.7L568.1 292.1L567.9 292.6ZM565.4 293.5L565.6 293.1L565.7 293.5L565.6 293.9ZM578.8 310.9L579.0 310.2L579.3 310.9L579.0 311.6ZM565.9 314.9L567.0 314.6L568.1 314.9L567.0 315.1ZM563.4 315.8L564.1 315.6L564.8 315.8L564.1 316.0ZM573.1 315.1L573.4 314.8L573.7 315.1L573.4 315.3ZM588.0 315.1L588.9 314.3L589.8 315.1L588.9 315.8ZM611.7 316.4L612.0 316.2L612.3 316.4L612.0 316.6ZM614.9 317.3L615.3 317.2L615.7 317.3L615.3 317.5ZM610.9 318.1L611.5 317.8L612.0 318.1L611.5 318.4ZM616.0 321.7L616.6 321.5L617.1 321.7L616.6 321.8ZM511.2 295.2L511.8 294.9L512.4 295.2L511.8 295.5ZM523.0 310.3L523.3 310.2L523.6 310.3L523.3 310.5ZM519.2 305.4L519.5 304.8L519.7 305.4L519.5 306.0ZM527.1 300.5L527.5 300.3L527.8 300.5L527.5 300.7ZM527.0 298.2L527.3 298.0L527.6 298.2L527.3 298.4ZM533.8 292.5L534.0 292.1L534.3 292.5L534.0 292.9ZM535.1 303.1L535.3 303.0L535.5 303.1L535.3 303.3ZM548.3 307.1L548.6 306.5L548.9 307.1L548.6 307.7ZM556.3 311.6L556.5 311.1L556.6 311.6L556.5 312.2ZM558.7 287.7L559.2 287.5L559.6 287.7L559.2 287.9ZM557.2 288.7L557.5 288.6L557.9 288.7L557.5 288.9ZM555.1 290.4L555.5 290.2L556.0 290.4L555.5 290.5ZM555.1 277.2L555.5 277.0L556.0 277.2L555.5 277.4ZM563.2 274.0L563.4 273.5L563.6 274.0L563.4 274.4ZM559.0 274.7L559.2 274.5L559.4 274.7L559.2 275.0ZM566.5 281.5L566.7 281.2L566.8 281.5L566.7 281.7ZM565.6 280.8L565.7 280.4L565.9 280.8L565.7 281.2ZM558.9 261.5L559.0 261.3L559.1 261.5L559.0 261.7ZM558.2 263.6L558.6 263.4L559.1 263.6L558.6 263.7ZM572.4 246.5L572.8 246.3L573.3 246.5L572.8 246.8ZM565.0 253.2L565.2 253.0L565.4 253.2L565.2 253.3ZM562.9 253.9L563.2 253.7L563.5 253.9L563.2 254.1ZM575.5 242.2L575.6 241.8L575.7 242.2L575.6 242.6ZM574.5 242.7L574.7 242.6L574.9 242.7L574.7 242.9ZM572.3 235.0L572.5 234.4L572.6 235.0L572.5 235.5ZM588.8 228.2L589.1 227.8L589.3 228.2L589.1 228.5ZM579.4 231.6L579.6 231.4L579.8 231.6L579.6 231.7ZM582.5 235.0L582.6 234.7L582.7 235.0L582.6 235.3ZM571.4 238.0L571.6 237.6L571.8 238.0L571.6 238.4ZM594.0 214.5L594.2 214.4L594.3 214.5L594.2 214.7ZM618.5 206.6L618.8 206.3L619.0 206.6L618.8 206.9ZM613.5 211.2L613.8 211.0L614.2 211.2L613.8 211.4ZM651.5 200.0L652.1 199.8L652.7 200.0L652.1 200.1ZM652.9 200.9L653.2 200.8L653.5 200.9L653.2 201.0ZM659.8 201.7L660.3 201.5L660.8 201.7L660.3 201.8ZM662.5 202.6L663.0 202.5L663.6 202.6L663.0 202.7ZM663.9 201.8L664.1 201.7L664.3 201.8L664.1 201.9ZM642.0 196.6L642.4 196.4L642.9 196.6L642.4 196.7ZM634.7 188.6L635.3 187.7L636.0 188.6L635.3 189.5ZM639.0 195.8L639.7 195.5L640.4 195.8L639.7 196.1ZM587.2 196.0L587.8 195.6L588.3 196.0L587.8 196.4ZM626.7 359.7L626.8 359.6L626.9 359.7L626.8 359.8ZM642.9 355.0L643.0 354.9L643.1 355.0L643.0 355.1ZM639.4 396.1L639.7 395.8L640.0 396.1L639.7 396.4ZM599.0 375.6L599.3 375.2L599.5 375.6L599.3 376.1ZM606.3 375.8L606.6 375.3L606.8 375.8L606.6 376.4ZM615.9 347.8L616.0 346.9L616.2 347.8L616.0 348.8ZM573.7 322.1L574.1 321.8L574.6 322.1L574.1 322.3ZM590.4 331.3L590.9 331.1L591.3 331.3L590.9 331.6ZM585.8 321.9L586.0 321.3L586.1 321.9L586.0 322.4ZM529.3 320.0L529.5 319.9L529.6 320.0L529.5 320.1ZM462.4 393.4L463.5 392.9L464.6 393.4L463.5 394.0ZM470.6 400.6L470.8 400.5L471.0 400.6L470.8 400.7ZM478.0 371.7L478.1 371.6L478.2 371.7L478.1 371.8ZM661.4 336.1L661.8 336.0L662.1 336.1L661.8 336.2ZM664.7 332.0L664.9 331.8L665.0 332.0L664.9 332.2ZM470.2 292.5L470.3 291.6L470.4 292.5L470.3 293.5ZM470.5 298.2L470.6 297.4L470.7 298.2L470.6 299.0ZM469.3 279.3L469.4 278.7L469.5 279.3L469.4 279.8ZM507.6 286.8L507.8 286.3L508.0 286.8L507.8 287.4ZM506.0 282.7L506.2 282.5L506.3 282.7L506.2 282.9ZM505.2 279.8L505.4 279.5L505.7 279.8L505.4 280.2ZM515.6 278.0L515.8 277.0L516.0 278.0L515.8 278.9ZM468.7 313.9L468.8 313.8L468.9 313.9L468.8 314.0ZM513.3 323.1L513.4 323.0L513.5 323.1L513.4 323.2Z" fill="#fafafa" stroke="#8a8a8a" stroke-width="0.8" stroke-linejoin="round"/>
<path d="M169.1 211.7L173.8 209.2L176.2 207.5L179.3 207.9L182.4 209.4L182.8 212.1L179.3 212.1L176.6 211.1L176.2 210.4L174.7 211.3L172.0 211.9ZM177.1 221.2L179.3 221.0L179.7 217.8L181.1 214.9L182.4 213.4L179.3 213.4L176.9 214.9L176.9 218.7ZM182.6 213.2L184.8 212.8L188.4 213.0L191.1 214.9L191.1 215.7L188.4 215.1L188.0 218.1L186.8 218.7L186.4 217.0L184.2 217.4L185.1 214.9ZM184.9 221.0L186.6 220.6L191.1 219.3L193.1 218.9L191.1 220.2L188.4 221.4L186.0 221.5ZM191.5 218.1L193.0 217.2L196.6 216.8L197.9 216.6L197.9 217.8L195.7 218.1L193.0 218.3ZM109.1 175.2L112.8 173.6L117.3 173.3L121.9 173.8L122.8 175.2L118.3 177.1L113.7 177.1L111.9 176.1ZM123.7 184.6L126.5 185.0L130.1 184.1L134.7 182.4L138.3 181.2L134.7 181.0L130.1 182.2L126.5 182.7L124.1 183.7ZM156.7 198.3L158.7 198.1L161.3 203.6L160.5 204.7L159.3 202.6L157.1 200.3ZM133.7 189.0L138.3 187.5L142.9 187.7L138.3 188.4ZM180.4 277.4L181.7 277.8L182.4 279.1L181.1 278.7ZM209.2 329.4L210.6 329.6L211.7 331.1L210.3 331.0ZM422.5 213.6L426.2 212.1L430.7 211.1L433.5 211.5L433.8 214.3L430.2 214.9L429.8 215.9L428.5 215.7L429.6 218.3L432.6 219.3L432.6 221.2L435.3 221.0L436.2 222.1L433.5 222.5L433.5 224.4L434.4 226.3L435.3 229.1L435.1 230.2L431.6 230.6L428.5 229.3L426.2 228.9L426.0 227.4L426.7 225.7L427.1 223.8L428.5 223.6L426.9 222.5L425.3 220.6L423.4 218.7L423.4 216.8L422.0 215.7ZM443.1 213.4L445.3 211.9L448.0 212.3L448.6 214.0L446.2 216.8L443.9 217.4L442.9 215.3ZM391.9 186.5L393.4 184.2L396.1 183.5L397.0 185.0L395.2 186.3ZM399.8 184.6L400.7 181.6L403.0 182.7L402.5 184.6ZM394.7 302.0L395.2 299.7L397.9 299.3L399.4 300.7L398.8 302.9L397.6 304.8L396.1 305.2L394.8 304.3ZM390.3 306.5L391.0 308.6L390.8 311.5L392.7 314.3L393.6 316.6L392.5 315.6L390.6 313.0L389.9 309.6ZM398.8 318.1L399.8 319.0L400.1 321.9L400.7 324.7L401.0 327.2L399.9 327.0L399.4 323.8L399.0 320.9ZM402.3 291.6L403.0 292.0L403.6 294.6L402.7 295.2L402.5 293.5ZM392.3 298.0L393.7 295.9L394.1 296.3L393.0 298.0ZM361.3 274.4L362.8 274.4L363.7 275.5L362.4 276.2Z" fill="#ffffff" stroke="#7a7a7a" stroke-width="0.7" stroke-linejoin="round"/>
<path d="M113.2 207.3L163.4 207.3L164.4 206.6L169.3 208.3L173.8 209.2M182.8 212.1L183.5 212.6L184.8 213.0M186.8 218.7L185.5 220.2L184.9 220.8M193.1 218.9L192.8 218.1M197.9 216.6L200.2 214.9L206.6 214.9L208.4 213.6L209.4 212.1L210.8 210.4L213.0 210.6L213.4 213.4L214.5 215.1M80.0 168.3L80.0 186.0L83.6 186.3L86.4 188.4L90.0 187.1L93.7 189.4L97.3 192.6L100.0 194.1L99.5 196.0M123.5 238.6L127.7 238.4L134.7 240.8L139.8 240.8L139.8 239.9L142.9 239.9L146.5 244.1L149.2 245.2L150.3 243.7L152.9 244.3L155.6 248.0L156.5 250.1L159.8 251.1M168.7 272.5L169.3 271.3L169.8 269.8L172.0 269.6L171.1 267.5L171.1 266.4L174.4 266.4L174.6 266.0L176.0 265.1M174.4 266.4L174.4 270.0L174.9 270.0M176.2 270.4L174.2 272.7L172.7 274.0M174.2 272.8L175.7 273.6L176.9 274.7M177.8 275.5L178.9 274.0L180.8 273.6L182.4 272.1L185.3 271.7M180.8 279.1L182.6 279.3L184.4 279.5M185.9 284.8L186.4 282.1M195.0 286.5L195.9 283.6M206.1 262.8L206.3 264.7L206.1 266.0M207.0 277.8L204.8 279.3L203.9 282.1L204.8 285.0L205.7 286.8L209.4 286.8L213.9 288.4L213.4 292.5L214.8 297.8M215.0 297.8L209.7 298.0L210.3 301.0L209.4 308.1M209.4 308.1L204.8 304.6L202.1 302.0L199.7 300.3M199.7 300.3L196.6 299.5L193.3 297.4M199.7 300.3L199.3 302.9L194.8 305.8L193.5 309.0L192.1 309.6L190.6 307.7L190.6 306.5M209.4 308.1L203.9 308.6L202.6 313.4L204.3 318.1L208.4 318.1L208.3 320.9L210.3 320.9M210.3 320.9L211.4 324.0L211.2 328.5L210.3 330.8L210.3 333.2M210.3 333.2L208.8 334.9M210.3 320.9L212.5 320.9L217.9 318.7L217.9 321.9L222.1 324.3L226.7 326.2L227.6 330.8L230.7 331.0L231.2 333.2L231.8 336.1L230.9 338.1M210.3 333.2L212.1 337.0L212.6 340.8L214.8 343.6M214.8 343.6L217.2 341.9L219.7 342.5L222.8 342.1M222.8 342.1L224.3 337.2L229.4 336.6L230.9 338.1M230.9 338.1L231.6 341.9L235.4 342.3L235.8 345.5L238.0 345.5L237.4 348.6M222.8 342.1L230.3 347.4L232.0 348.2L230.1 351.8L234.9 351.8L237.4 348.6M237.4 348.6L239.1 349.9L238.5 351.8L235.2 353.7L232.0 357.3M232.0 357.3L235.8 358.6L239.4 361.6L239.6 363.9M232.0 357.3L230.9 361.6L230.5 364.5M214.8 343.6L212.3 346.5L212.1 351.2L209.7 355.9L209.4 359.7L209.4 363.5L208.6 367.3L207.5 371.1L206.6 375.8L206.1 381.5L206.4 387.2L204.8 391.9L203.3 394.8L205.2 397.6L205.9 398.5L212.3 399.1M211.9 399.9L211.9 404.0M215.0 297.8L217.6 298.6L220.3 297.3L220.3 295.4L221.4 292.7L219.4 292.3L222.5 293.1L225.8 291.6L226.3 290.3M226.3 290.3L225.0 288.7L227.0 286.8L227.9 284.4M226.3 290.3L227.8 291.6L228.3 294.4L227.8 295.7L229.6 297.6L234.0 296.5M232.7 288.9L232.5 290.3L231.2 292.5L232.5 293.9L234.0 296.5M234.0 296.5L237.4 295.7M238.5 289.3L237.6 291.6L237.4 295.7M237.4 295.7L240.5 295.9L242.9 292.1M320.7 220.8L322.0 220.6L324.9 220.8L325.6 221.5L324.3 224.4L323.2 225.1L324.1 227.8L323.4 229.7M333.6 217.9L338.2 219.1L342.5 219.8M341.5 203.4L344.6 205.5L347.5 206.4L348.2 206.4L351.8 207.3L350.7 210.0L347.8 212.6L349.7 213.2L348.9 214.7L350.6 217.2M343.1 202.8L346.0 202.8L347.8 203.9M347.8 203.9L348.0 205.3L347.5 206.4M347.8 203.9L347.8 202.0L349.7 201.1L350.0 199.2M352.6 196.2L354.9 196.4M363.0 198.1L363.5 200.7L364.2 203.6M364.2 203.6L358.9 204.9L362.0 207.7M362.0 207.7L360.6 210.0L355.5 210.4L354.4 210.2M354.4 210.2L350.7 210.0M349.7 213.2L353.3 213.0L355.8 211.9M354.4 210.2L354.4 210.9L355.8 211.9M355.8 211.9L359.1 211.1L361.9 212.1M361.9 212.1L366.2 211.5M361.9 212.1L361.9 213.8M362.0 207.7L364.2 207.3L367.9 207.9M368.1 209.2L366.2 211.5M367.9 207.9L368.1 209.2M364.2 203.6L367.5 204.9L371.2 206.4L377.9 207.2M371.2 206.4L367.9 207.9M368.1 209.2L371.5 209.6L374.3 208.7L377.2 208.5M377.2 208.5L377.9 207.2M377.9 207.2L380.6 204.3L379.9 201.7L380.4 199.8L379.7 197.9L378.4 197.1L373.0 197.1M378.4 197.1L378.3 196.0L375.5 195.4M379.7 197.9L383.4 197.3L385.4 194.8M375.2 193.9L380.6 193.5L385.4 194.8M381.4 190.5L386.8 191.3M385.4 194.8L388.3 193.7L386.8 191.3M386.8 191.3L387.4 189.4L387.9 187.5M387.6 185.6L391.6 182.7L394.3 180.8L391.6 178.0L391.2 175.2L389.7 171.9L388.8 170.4L389.7 169.3L393.2 168.0M388.8 169.7L389.7 168.2L384.3 167.8L383.9 169.5L380.1 170.1L375.7 168.9L374.3 169.3M374.3 169.3L379.7 171.6L380.1 174.2L380.8 175.5M374.3 169.3L369.7 170.4L367.0 172.3L363.3 175.0L361.7 178.0L358.8 179.9L359.1 183.7L359.7 185.6L357.9 187.5L357.3 188.4M379.9 202.4L386.1 202.4L392.5 202.8L394.8 201.5M388.3 193.7L393.2 194.8L393.0 196.4L396.1 198.8L394.8 201.5M394.8 201.5L398.8 201.1L401.6 204.5L406.1 205.5L409.8 206.2L409.4 209.2L406.7 210.8M377.2 208.5L381.5 209.4L385.4 208.7L387.9 208.7L390.1 209.2L391.6 212.1L388.3 214.0L391.0 214.3M385.4 208.7L388.3 214.0M377.2 208.5L376.1 212.6L373.9 212.8M373.9 212.8L371.2 213.2L367.0 212.1L366.2 211.5M373.9 212.8L375.9 215.3L378.3 216.4L378.8 217.2L383.4 217.4L386.1 216.6L389.0 217.4M378.3 216.4L377.7 220.0M377.7 220.0L378.8 221.9L381.5 221.5L384.8 221.2L387.9 220.6M384.8 221.2L384.5 223.1M373.5 224.9L375.2 222.9L378.8 221.9M361.9 214.0L364.8 214.0L367.0 212.1M365.7 214.5L371.5 214.9L371.2 213.2M365.7 214.5L366.1 216.8L369.0 218.7L370.6 219.6M371.5 214.9L372.1 216.8L371.9 217.8L370.8 219.3M371.9 217.8L373.9 219.1L373.3 219.6L372.2 220.8M373.9 219.1L376.4 220.0L377.7 220.0M373.3 219.6L374.4 220.8L374.6 222.7L375.2 222.9M374.4 220.8L376.4 220.0M402.7 232.0L403.8 230.4L406.1 230.4L414.0 229.7M414.0 229.7L418.5 229.7M418.5 229.7L417.6 225.5L418.5 224.9M418.5 224.9L416.3 223.8L416.2 222.3L412.5 221.5M409.8 217.9L414.3 218.3L418.0 219.3L421.4 220.8L424.0 222.1L425.4 221.0M416.2 222.3L418.9 221.9L421.4 220.8M418.9 221.9L421.6 225.3L421.6 226.5M418.5 224.9L421.6 226.5L424.4 225.1L426.0 227.4M414.0 229.7L412.0 234.2L411.6 235.0L407.6 236.9M407.6 236.9L403.9 239.0L401.9 238.2M402.5 234.6L403.6 235.4L402.1 237.1L400.9 237.4M401.9 238.2L401.6 240.5L400.7 244.3M400.5 244.3L399.2 240.8M400.7 244.4L402.5 244.8L405.2 243.3L406.1 242.4L404.3 240.5L408.0 239.5L408.3 239.1M408.3 239.1L407.6 236.9M408.3 239.1L413.4 241.2L418.3 244.8L421.6 245.0M421.6 245.0L422.5 243.3L424.2 243.3L424.4 243.5M421.6 245.0L423.4 246.1L425.1 246.1M418.5 229.7L419.8 232.1L420.7 233.8L419.8 235.7L420.7 237.6L424.0 239.9L423.8 241.4L425.4 243.3M414.7 269.1L415.8 267.2L418.9 267.4L422.5 267.9L426.2 265.1L431.6 264.1M431.6 264.1L437.1 262.2L438.4 258.5L437.5 257.1M437.5 257.1L432.7 256.8L430.9 254.5L430.7 254.1M437.5 257.1L438.6 254.3L439.7 253.0M431.6 264.1L433.6 268.7M429.5 253.3L430.4 253.7M435.1 229.5L437.1 228.2L440.8 227.8L444.9 229.1L448.4 230.8L448.4 232.7M448.4 232.7L447.3 235.7L447.9 240.5L449.5 241.4L447.9 243.7M447.9 243.7L451.3 246.7L452.1 249.0L449.5 250.9L449.1 252.6M447.9 243.7L450.8 244.4L457.7 243.5L458.8 240.8L463.2 239.7L463.5 237.4L465.0 236.9L466.4 235.2L467.2 232.1L470.8 230.2L473.4 229.7M448.4 232.7L451.7 233.1L454.4 231.4L458.1 229.3M458.1 229.3L460.8 230.1L463.5 228.9L465.0 228.0L467.2 228.4L467.2 230.6L470.5 229.3L473.4 229.7M458.1 229.3L453.5 226.5L450.6 224.4L446.2 222.1L446.2 220.2L443.7 219.3L442.2 220.2L440.6 221.0L440.8 221.9L438.9 221.9M438.9 221.9L438.0 221.9L436.6 220.6L432.6 221.0M438.9 221.9L438.9 214.9L443.5 213.8L448.0 216.1L449.9 217.8L455.1 217.4L457.3 218.7L457.2 220.6L461.3 223.1L462.6 221.7L465.9 220.2L466.3 220.0M466.3 220.0L470.8 219.6L472.1 218.3L474.6 218.9L483.0 220.2M483.0 220.2L483.0 214.9L487.2 214.0L488.1 210.8L492.7 210.9L493.0 208.5L496.0 207.0M496.0 207.0L491.8 205.3L488.9 203.6L482.7 203.7L478.7 199.0L470.6 198.8L470.8 197.9L466.3 197.7L466.3 195.4L462.6 195.2L455.3 197.1L448.6 198.1L448.0 200.7L446.2 203.6L449.1 203.0L446.0 203.9L443.3 203.4L438.4 204.3L436.2 203.6L432.2 202.2L429.5 202.2L425.6 204.3L423.1 205.1L422.2 208.5L424.4 209.8L425.4 211.9L426.4 212.3M483.0 220.2L479.0 222.5L475.4 223.6L471.2 225.5M471.2 225.5L473.5 229.3L473.4 229.7M471.2 225.5L465.4 225.1L464.4 224.0M466.3 220.0L465.4 221.7L469.9 222.9L467.7 224.2L465.5 224.0M465.5 224.0L463.2 223.1L461.7 225.3L459.7 226.1L460.8 230.1M461.2 255.2L466.3 253.9L464.4 249.7L464.8 247.1L468.6 245.8L471.5 242.6L472.6 241.2L474.3 239.0L471.7 237.3L471.7 234.4L477.2 232.9L478.7 232.9M473.4 229.7L475.4 232.0L478.7 232.9L480.7 235.2L480.5 237.6L480.8 239.0L480.3 240.5L484.7 242.9M484.7 242.9L482.8 245.6L488.7 248.2L492.3 249.6L497.4 250.1L497.4 247.3M484.7 242.9L486.9 243.1L490.3 245.6L493.6 247.1L497.4 247.3M497.4 247.3L498.7 247.1L498.7 248.4M498.7 248.4L500.3 246.7L504.0 247.5L504.5 249.4L500.5 249.6L498.7 248.4M504.0 247.5L507.1 246.0L510.7 245.2L514.2 246.5M499.1 258.8L498.9 256.2L497.4 253.7L497.4 251.3L498.7 250.1L500.5 250.9L500.7 252.2L505.3 252.8L503.1 254.7L503.1 255.6L504.0 256.6L505.1 258.5L505.3 260.9M505.6 259.8L506.7 257.9L506.9 254.7L509.3 252.4L510.4 250.9L512.2 248.4L514.2 246.5M514.2 246.5L516.7 248.0L516.7 251.1L514.9 254.7L516.7 254.7L517.6 256.6L517.6 258.3L519.3 259.4L521.3 258.8L521.3 260.0M521.3 260.0L519.3 261.5L515.5 262.8L514.4 265.1L517.1 269.2L515.8 271.5L517.6 275.5L518.4 277.8L516.4 281.4M519.3 261.5L520.0 263.2L521.5 263.2L520.9 266.8L522.9 265.8L525.3 265.3L527.7 267.2L527.8 269.1L529.3 270.6L528.6 273.0M528.6 273.0L524.4 273.2L523.3 274.7L524.4 278.0M519.3 287.8L521.1 289.3L522.7 288.4M521.3 260.0L523.1 257.7M523.1 257.7L524.6 260.3L527.3 261.5L526.2 263.6L528.6 265.3L531.1 268.7L532.6 271.1L532.8 272.8M528.6 273.0L530.0 273.6L532.8 272.8M532.8 272.8L532.8 276.6L529.8 278.0L530.4 279.5L528.2 279.5L527.3 280.4M523.1 257.7L526.4 257.1L529.1 256.2L531.3 258.1L533.7 259.4M496.9 207.0L498.5 208.9L502.5 211.3L502.7 214.5L510.7 216.4L512.5 219.3L522.4 219.6L528.2 221.4L532.8 219.8L538.0 219.1L540.8 217.4L540.6 214.9L545.5 214.2L548.3 213.6L550.8 211.9L555.0 211.7L551.9 209.2L547.3 209.8L549.5 205.8M496.0 207.0L496.9 207.0L500.3 205.6L505.1 203.9L509.6 205.5L514.2 206.0L516.0 204.5L515.8 201.7L518.9 202.2L522.9 203.0L523.3 204.5L528.2 204.7L531.9 204.9L534.6 206.8L538.6 207.2L542.6 206.4L545.3 205.1L549.5 205.8M549.5 205.8L551.5 206.4L554.3 205.3L556.8 200.7L555.7 200.1L557.4 199.2L562.1 198.8L566.3 200.1L568.8 204.1L569.4 205.8L572.7 206.6L574.9 207.9L575.4 209.6L578.3 209.6L582.5 208.5L579.4 214.7L576.1 216.6L575.6 218.9L574.9 219.8M574.9 219.8L571.9 220.6L570.1 221.5L568.1 221.0L564.6 223.4L563.4 224.4M567.7 228.5L570.8 227.0M333.3 233.7L333.8 236.7L334.7 239.1L330.5 240.5L327.8 243.3L321.0 245.8L321.0 247.7M312.8 247.7L321.0 247.7M321.0 247.7L321.0 250.9L315.0 250.9L315.0 255.6L313.2 256.6L313.2 259.8L305.9 259.8M321.0 248.4L328.0 252.8M328.0 252.8L334.1 256.9L340.2 261.1L342.6 262.8L342.7 264.0L344.7 263.8M344.7 263.8L347.8 262.2L358.8 255.6M358.8 255.6L355.1 253.7L354.2 250.3L354.9 247.1L354.2 242.9M354.2 242.9L353.3 239.5L350.6 236.7L352.0 233.8L352.6 230.2M354.2 242.9L355.7 240.5L357.9 238.6L357.9 237.3M382.8 240.3L382.4 244.8L382.4 258.5M382.4 258.5L382.4 262.2L380.6 262.2L380.6 263.2M380.6 263.2L366.1 255.6L364.2 256.6M364.2 256.6L362.8 257.3L358.8 255.6M382.4 258.5L394.3 258.5L404.1 258.5M328.0 252.8L325.1 252.8L326.0 261.1L326.9 269.2L327.2 269.4L326.9 270.8L319.5 270.8L317.0 271.5L315.4 272.1L314.7 272.3M306.8 269.6L309.6 268.7L311.4 269.2L313.2 270.8L314.7 272.3M314.7 272.3L315.9 275.5L316.1 276.6M306.5 276.6L309.6 276.1L311.9 276.2L316.1 276.6M306.3 274.4L309.6 274.0L311.8 274.7L309.6 274.9L306.3 275.3M311.9 276.2L311.9 278.0L309.6 279.5M316.1 276.6L319.6 276.8L321.8 278.5L322.3 280.8M312.7 283.1L314.1 281.4L316.9 281.2L318.1 284.0M318.1 284.0L319.8 286.1L321.6 285.7M315.9 287.0L318.1 284.0M321.6 285.7L322.5 283.6L322.3 280.8M323.2 291.8L321.6 287.8L321.6 285.7M322.3 280.8L325.6 280.2L326.9 280.4M326.9 280.4L328.7 281.7L331.8 281.7L332.0 282.1M332.0 282.1L331.8 286.8L331.3 290.4M332.0 282.1L331.8 279.3L336.9 279.1M336.9 279.1L337.8 285.0L339.1 288.6M338.5 279.3L339.8 283.1L340.0 288.4M341.8 288.2L341.8 283.1L343.5 278.0M336.9 279.1L338.5 279.3L341.1 276.8L343.5 278.0M326.9 280.4L327.2 277.8L329.6 274.7L333.3 273.2L337.3 271.9M337.3 271.9L338.7 274.9L341.1 276.8M337.3 271.9L343.3 270.9L344.6 268.3L344.7 263.8M343.5 278.0L344.2 274.5L349.7 275.5L355.1 274.9L361.5 274.4M361.7 274.2L365.1 268.3L365.9 261.5L364.2 256.6M352.4 291.4L354.2 287.8L357.9 287.2L359.7 284.0L362.0 279.3L362.8 276.4L362.6 275.3M362.8 275.9L364.2 278.3L365.1 281.2L362.4 281.2L364.8 285.9M380.6 263.2L380.6 270.4L378.6 270.4L377.0 275.5L378.6 279.3M364.8 285.9L370.6 285.0L371.5 283.1L375.2 282.1L378.6 279.3M364.8 285.9L363.3 290.6L366.2 295.9M354.8 295.7L361.1 295.9L366.2 295.9M354.8 298.2L357.5 298.2L357.5 295.7M361.1 295.9L363.1 297.6L363.1 301.0L363.3 303.9L359.7 304.5L356.9 307.5M366.2 295.9L367.0 294.0L370.8 293.5M370.8 293.5L369.3 301.0L366.4 303.9L364.8 308.2L360.8 308.8L359.1 311.1M358.8 309.6L360.2 308.6L360.8 308.8M370.8 293.5L370.8 291.8L377.9 292.3L382.4 290.6L386.8 290.3M378.6 279.3L380.6 283.6L383.0 285.9L386.8 290.3M380.6 283.6L384.3 281.2L389.7 281.7L395.2 279.3L398.7 282.1M398.7 282.1L399.8 279.7L402.5 276.1L403.4 273.0M403.4 273.0L404.3 267.9L407.0 266.0M403.4 273.0L408.0 272.5L411.6 274.5L414.2 276.4M414.2 276.4L413.1 279.3L415.2 279.3L415.6 278.3M415.2 279.3L414.9 281.2L417.1 283.1L422.5 285.0L424.4 285.0L418.9 290.6L413.4 292.1L411.6 292.7M411.6 292.7L408.0 293.5L402.5 291.8L402.3 291.4M398.7 282.1L397.0 285.0L400.1 287.4L402.3 291.4M402.3 291.4L398.8 292.1L397.9 292.9L393.4 293.1L393.0 293.5M393.0 293.5L390.6 291.8L386.8 290.3M411.6 292.7L411.6 300.1L412.7 303.3M398.8 292.1L399.8 298.0L398.8 300.1L398.7 302.0M398.7 302.0L405.6 306.0L408.3 309.0M393.0 293.5L393.4 295.9L391.2 299.0L390.8 302.8M390.8 302.8L392.5 302.0L398.7 302.0M390.8 302.8L389.7 305.2L390.3 308.4M392.5 302.0L393.0 304.6L391.6 308.4L390.5 308.4M389.7 305.2L393.0 304.6M392.8 315.8L396.8 317.9M396.8 317.9L398.8 318.1M400.5 322.1L405.2 322.2L410.5 320.0M400.5 322.1L400.1 323.8L402.3 328.3L401.2 331.9L400.7 332.5L399.4 330.4L399.4 327.4L397.4 326.6M396.8 317.9L397.4 320.9L396.7 326.0L397.4 326.6M397.4 326.6L392.1 328.5L392.3 329.6M392.3 329.6L389.4 331.3L386.1 334.0L383.0 333.8M392.8 315.8L389.6 316.2L388.6 317.7L389.0 322.6L391.2 323.2L391.2 325.5L388.6 323.8L386.5 322.1L383.0 321.3L381.4 321.7L380.6 320.7M380.6 320.7L380.6 324.7L377.0 324.7L377.0 330.8L379.5 333.4M359.1 311.1L361.3 311.3L367.1 311.3L367.9 313.9L372.4 313.4L373.3 313.4L376.6 313.9L376.8 318.1L377.5 321.3L380.6 320.7M358.4 332.8L362.4 333.0L370.4 333.0L375.9 334.2L379.5 333.4L383.0 333.8M375.2 334.7L381.5 334.2L383.0 333.8M375.2 334.7L375.2 341.7L373.3 341.7L373.3 347.0M373.3 347.0L373.3 353.9L371.5 354.8L368.6 354.4L366.8 354.2M373.3 347.0L374.8 350.8L378.1 349.3L381.9 348.8L385.9 345.0L390.5 342.1M383.0 333.8L384.3 337.0L387.4 338.9L390.5 342.1M390.5 342.1L393.9 342.5M392.3 329.6L394.3 330.8L396.7 331.7L397.0 335.1L396.5 338.9L393.9 342.5M393.9 342.5L395.2 345.5L395.2 348.9L395.4 350.8L396.8 351.0M386.1 356.1L387.9 354.6L390.3 355.6L389.7 357.8L387.0 357.8L386.1 356.1M393.0 350.3L394.8 349.1L395.4 350.8L393.9 351.8L393.0 350.3M536.6 296.3L538.2 298.4L541.0 297.4L545.5 297.4L547.3 294.4L547.9 292.0L551.2 292.1M544.8 291.4L545.9 292.5L547.0 291.8L547.0 290.6M593.8 305.0L593.8 317.3M564.5 317.1L564.8 318.1L563.6 319.2" fill="none" stroke="#7a7a7a" stroke-width="0.8" stroke-linejoin="round" stroke-linecap="round"/>
</g>
<g id="charts">
<rect x="124.4" y="178.9" width="8.1" height="79.9" fill="#231f20"/>
<rect x="134.8" y="252.7" width="8.2" height="6.1" fill="#1b5ea9"/>
<rect x="145.5" y="258.8" width="8.6" height="9.5" fill="#ae1b2c"/>
<rect x="156.4" y="230.7" width="8.1" height="28.1" fill="#f6c03c"/>
<rect x="167.1" y="253.2" width="7.9" height="5.6" fill="#437e34"/>
<rect x="177.8" y="258.8" width="7.6" height="1.8" fill="#8faadc"/>
<rect x="187.8" y="243.5" width="8.1" height="15.3" fill="#e6908d"/>
<rect x="198.2" y="224.2" width="8.1" height="34.6" fill="#fcd6a0"/>
<line x1="123.2" y1="175.4" x2="123.2" y2="272.2" stroke="#3a3a3a" stroke-width="0.9"/>
<line x1="123.2" y1="272.2" x2="207.5" y2="272.2" stroke="#3a3a3a" stroke-width="0.9"/>
<text transform="translate(121.0 269.9) scale(0.8 1)" font-size="7.0" text-anchor="end" font-weight="normal" fill="#231f20">-2</text>
<text transform="translate(121.0 261.3) scale(0.8 1)" font-size="7.0" text-anchor="end" font-weight="normal" fill="#231f20">0</text>
<text transform="translate(121.0 252.7) scale(0.8 1)" font-size="7.0" text-anchor="end" font-weight="normal" fill="#231f20">2</text>
<text transform="translate(121.0 244.2) scale(0.8 1)" font-size="7.0" text-anchor="end" font-weight="normal" fill="#231f20">4</text>
<text transform="translate(121.0 235.6) scale(0.8 1)" font-size="7.0" text-anchor="end" font-weight="normal" fill="#231f20">6</text>
<text transform="translate(121.0 227.0) scale(0.8 1)" font-size="7.0" text-anchor="end" font-weight="normal" fill="#231f20">8</text>
<text transform="translate(121.0 218.5) scale(0.8 1)" font-size="7.0" text-anchor="end" font-weight="normal" fill="#231f20">10</text>
<text transform="translate(121.0 209.9) scale(0.8 1)" font-size="7.0" text-anchor="end" font-weight="normal" fill="#231f20">12</text>
<text transform="translate(121.0 201.3) scale(0.8 1)" font-size="7.0" text-anchor="end" font-weight="normal" fill="#231f20">14</text>
<text transform="translate(121.0 192.7) scale(0.8 1)" font-size="7.0" text-anchor="end" font-weight="normal" fill="#231f20">16</text>
<text transform="translate(121.0 184.2) scale(0.8 1)" font-size="7.0" text-anchor="end" font-weight="normal" fill="#231f20">18</text>
<text transform="translate(138.3 188.7) scale(0.836 1)" font-size="10.5" text-anchor="start" font-weight="normal" fill="#231f20">North America</text>
<rect x="328.8" y="138.5" width="8.9" height="106.5" fill="#231f20"/>
<rect x="339.8" y="242.0" width="8.0" height="3.0" fill="#1b5ea9"/>
<rect x="349.2" y="245.0" width="8.7" height="42.6" fill="#ae1b2c"/>
<rect x="359.6" y="240.7" width="8.2" height="4.3" fill="#f6c03c"/>
<rect x="370.1" y="215.4" width="8.4" height="29.6" fill="#437e34"/>
<rect x="380.4" y="245.0" width="7.8" height="1.3" fill="#8faadc"/>
<rect x="390.3" y="219.6" width="8.0" height="25.6" fill="#e6908d"/>
<rect x="400.2" y="157.2" width="8.6" height="87.8" fill="#fcd6a0"/>
<line x1="327.6" y1="136.8" x2="327.6" y2="294.3" stroke="#3a3a3a" stroke-width="0.9"/>
<line x1="327.6" y1="294.3" x2="410.0" y2="294.3" stroke="#3a3a3a" stroke-width="0.9"/>
<text transform="translate(325.6 291.0) scale(0.8 1)" font-size="7.0" text-anchor="end" font-weight="normal" fill="#231f20">-10</text>
<text transform="translate(325.6 282.3) scale(0.8 1)" font-size="7.0" text-anchor="end" font-weight="normal" fill="#231f20">-8</text>
<text transform="translate(325.6 273.5) scale(0.8 1)" font-size="7.0" text-anchor="end" font-weight="normal" fill="#231f20">-6</text>
<text transform="translate(325.6 264.8) scale(0.8 1)" font-size="7.0" text-anchor="end" font-weight="normal" fill="#231f20">-4</text>
<text transform="translate(325.6 256.0) scale(0.8 1)" font-size="7.0" text-anchor="end" font-weight="normal" fill="#231f20">-2</text>
<text transform="translate(325.6 247.3) scale(0.8 1)" font-size="7.0" text-anchor="end" font-weight="normal" fill="#231f20">0</text>
<text transform="translate(325.6 238.6) scale(0.8 1)" font-size="7.0" text-anchor="end" font-weight="normal" fill="#231f20">2</text>
<text transform="translate(325.6 229.8) scale(0.8 1)" font-size="7.0" text-anchor="end" font-weight="normal" fill="#231f20">4</text>
<text transform="translate(325.6 221.1) scale(0.8 1)" font-size="7.0" text-anchor="end" font-weight="normal" fill="#231f20">6</text>
<text transform="translate(325.6 212.3) scale(0.8 1)" font-size="7.0" text-anchor="end" font-weight="normal" fill="#231f20">8</text>
<text transform="translate(325.6 203.6) scale(0.8 1)" font-size="7.0" text-anchor="end" font-weight="normal" fill="#231f20">10</text>
<text transform="translate(325.6 194.9) scale(0.8 1)" font-size="7.0" text-anchor="end" font-weight="normal" fill="#231f20">12</text>
<text transform="translate(325.6 186.1) scale(0.8 1)" font-size="7.0" text-anchor="end" font-weight="normal" fill="#231f20">14</text>
<text transform="translate(325.6 177.4) scale(0.8 1)" font-size="7.0" text-anchor="end" font-weight="normal" fill="#231f20">16</text>
<text transform="translate(325.6 168.6) scale(0.8 1)" font-size="7.0" text-anchor="end" font-weight="normal" fill="#231f20">18</text>
<text transform="translate(325.6 159.9) scale(0.8 1)" font-size="7.0" text-anchor="end" font-weight="normal" fill="#231f20">20</text>
<text transform="translate(325.6 151.2) scale(0.8 1)" font-size="7.0" text-anchor="end" font-weight="normal" fill="#231f20">22</text>
<text transform="translate(325.6 142.4) scale(0.8 1)" font-size="7.0" text-anchor="end" font-weight="normal" fill="#231f20">24</text>
<text transform="translate(341.1 144.3) scale(0.836 1)" font-size="10.5" text-anchor="start" font-weight="normal" fill="#231f20">Europe &amp; Central Asia</text>
<rect x="429.9" y="232.0" width="8.2" height="15.5" fill="#231f20"/>
<rect x="440.0" y="231.8" width="7.5" height="1.3" fill="#1b5ea9"/>
<rect x="449.3" y="232.0" width="8.0" height="1.3" fill="#ae1b2c"/>
<rect x="459.3" y="231.6" width="7.7" height="1.3" fill="#f6c03c"/>
<rect x="469.3" y="227.5" width="8.0" height="4.5" fill="#437e34"/>
<rect x="479.3" y="232.0" width="7.7" height="1.3" fill="#8faadc"/>
<rect x="489.3" y="232.0" width="8.9" height="14.0" fill="#e6908d"/>
<line x1="428.0" y1="226.7" x2="428.0" y2="252.5" stroke="#3a3a3a" stroke-width="0.9"/>
<line x1="428.0" y1="252.5" x2="506.7" y2="252.5" stroke="#3a3a3a" stroke-width="0.9"/>
<text transform="translate(426.4 234.4) scale(0.92 1)" font-size="7.3" text-anchor="end" font-weight="normal" fill="#231f20">0</text>
<text transform="translate(426.5 240.0) rotate(-90) scale(0.92 1)" font-size="7.3" text-anchor="middle" fill="#231f20">-2</text>
<text transform="translate(426.5 247.4) rotate(-90) scale(0.92 1)" font-size="7.3" text-anchor="middle" fill="#231f20">-4</text>
<text transform="translate(428.8 222.7) scale(0.836 1)" font-size="10.5" text-anchor="start" font-weight="normal" fill="#231f20">Middle East &amp; North Africa</text>
<rect x="442.1" y="293.3" width="7.8" height="12.6" fill="#231f20"/>
<rect x="452.0" y="293.3" width="7.5" height="4.0" fill="#1b5ea9"/>
<rect x="462.0" y="293.3" width="7.5" height="1.3" fill="#ae1b2c"/>
<rect x="471.8" y="293.3" width="7.5" height="1.3" fill="#f6c03c"/>
<rect x="481.0" y="293.3" width="7.8" height="1.3" fill="#437e34"/>
<rect x="490.7" y="293.3" width="7.3" height="1.3" fill="#8faadc"/>
<rect x="500.0" y="293.3" width="8.0" height="9.9" fill="#e6908d"/>
<line x1="440.8" y1="289.3" x2="440.8" y2="315.2" stroke="#3a3a3a" stroke-width="0.9"/>
<line x1="440.8" y1="315.2" x2="518.7" y2="315.2" stroke="#3a3a3a" stroke-width="0.9"/>
<text transform="translate(439.2 296.0) scale(0.92 1)" font-size="7.3" text-anchor="end" font-weight="normal" fill="#231f20">0</text>
<text transform="translate(439.2 304.5) scale(0.92 1)" font-size="7.3" text-anchor="end" font-weight="normal" fill="#231f20">-2</text>
<text transform="translate(439.2 312.5) scale(0.92 1)" font-size="7.3" text-anchor="end" font-weight="normal" fill="#231f20">-4</text>
<text transform="translate(441.3 285.9) scale(0.836 1)" font-size="10.5" text-anchor="start" font-weight="normal" fill="#231f20">South Asia</text>
<rect x="520.4" y="257.0" width="7.5" height="27.2" fill="#231f20"/>
<rect x="529.5" y="281.7" width="8.3" height="2.6" fill="#1b5ea9"/>
<rect x="540.0" y="284.0" width="8.0" height="2.2" fill="#ae1b2c"/>
<rect x="549.9" y="283.1" width="8.3" height="1.7" fill="#f6c03c"/>
<rect x="560.2" y="281.8" width="7.9" height="2.6" fill="#437e34"/>
<rect x="570.2" y="283.7" width="7.4" height="1.3" fill="#8faadc"/>
<rect x="580.2" y="270.9" width="7.2" height="13.3" fill="#e6908d"/>
<rect x="589.3" y="272.3" width="8.2" height="11.9" fill="#fcd6a0"/>
<line x1="519.4" y1="255.5" x2="519.4" y2="287.1" stroke="#3a3a3a" stroke-width="0.9"/>
<line x1="519.4" y1="287.1" x2="598.9" y2="287.1" stroke="#3a3a3a" stroke-width="0.9"/>
<text transform="translate(517.8 260.3) scale(0.92 1)" font-size="7.3" text-anchor="end" font-weight="normal" fill="#231f20">6</text>
<text transform="translate(517.8 267.8) scale(0.92 1)" font-size="7.3" text-anchor="end" font-weight="normal" fill="#231f20">4</text>
<text transform="translate(517.8 275.5) scale(0.92 1)" font-size="7.3" text-anchor="end" font-weight="normal" fill="#231f20">2</text>
<text transform="translate(517.8 283.8) scale(0.92 1)" font-size="7.3" text-anchor="end" font-weight="normal" fill="#231f20">0</text>
<text transform="translate(520.2 252.2) scale(0.836 1)" font-size="10.5" text-anchor="start" font-weight="normal" fill="#231f20">East Asia &amp; Pacific</text>
<rect x="187.0" y="329.5" width="8.7" height="9.5" fill="#231f20"/>
<rect x="196.9" y="329.1" width="6.9" height="1.8" fill="#1b5ea9"/>
<rect x="206.0" y="329.5" width="8.7" height="3.1" fill="#ae1b2c"/>
<rect x="215.9" y="329.5" width="8.7" height="4.6" fill="#f6c03c"/>
<rect x="226.3" y="329.5" width="7.0" height="1.3" fill="#437e34"/>
<rect x="235.5" y="329.6" width="8.2" height="1.3" fill="#8faadc"/>
<rect x="245.4" y="329.5" width="8.7" height="1.3" fill="#e6908d"/>
<line x1="186.0" y1="328.6" x2="186.0" y2="351.7" stroke="#3a3a3a" stroke-width="0.9"/>
<line x1="186.0" y1="351.7" x2="263.6" y2="351.7" stroke="#3a3a3a" stroke-width="0.9"/>
<text transform="translate(184.4 332.4) scale(0.92 1)" font-size="7.3" text-anchor="end" font-weight="normal" fill="#231f20">0</text>
<text transform="translate(184.4 340.8) scale(0.92 1)" font-size="7.3" text-anchor="end" font-weight="normal" fill="#231f20">-2</text>
<text transform="translate(184.4 348.6) scale(0.92 1)" font-size="7.3" text-anchor="end" font-weight="normal" fill="#231f20">-4</text>
<text transform="translate(184.7 321.1) scale(0.836 1)" font-size="10.5" text-anchor="start" font-weight="normal" fill="#231f20">Latin America &amp; Caribbean</text>
<rect x="344.7" y="317.3" width="7.3" height="20.5" fill="#231f20"/>
<rect x="354.2" y="336.8" width="7.8" height="1.9" fill="#1b5ea9"/>
<rect x="364.5" y="336.8" width="7.7" height="1.9" fill="#ae1b2c"/>
<rect x="374.7" y="337.0" width="8.1" height="1.7" fill="#f6c03c"/>
<rect x="384.6" y="336.8" width="7.7" height="1.9" fill="#437e34"/>
<rect x="394.5" y="337.4" width="7.4" height="1.3" fill="#8faadc"/>
<rect x="404.8" y="337.4" width="7.3" height="1.3" fill="#e6908d"/>
<rect x="414.8" y="316.3" width="8.3" height="22.4" fill="#fcd6a0"/>
<line x1="343.6" y1="315.5" x2="343.6" y2="338.7" stroke="#3a3a3a" stroke-width="0.9"/>
<line x1="343.6" y1="338.7" x2="423.9" y2="338.7" stroke="#3a3a3a" stroke-width="0.9"/>
<text transform="translate(342.0 319.8) scale(0.92 1)" font-size="7.3" text-anchor="end" font-weight="normal" fill="#231f20">4</text>
<text transform="translate(342.0 327.8) scale(0.92 1)" font-size="7.3" text-anchor="end" font-weight="normal" fill="#231f20">2</text>
<text transform="translate(342.0 336.1) scale(0.92 1)" font-size="7.3" text-anchor="end" font-weight="normal" fill="#231f20">0</text>
<text transform="translate(344.2 311.1) scale(0.836 1)" font-size="10.5" text-anchor="start" font-weight="normal" fill="#231f20">Sub-Saharan Africa</text>
</g>
<g id="legend">
<rect x="30" y="277.5" width="19.8" height="5.0" fill="#231f20"/>
<text transform="translate(52.7 286.3) scale(0.836 1)" font-size="10.5" text-anchor="start" font-weight="normal" fill="#231f20">Total</text>
<rect x="30" y="292.2" width="19.8" height="5.0" fill="#1b5ea9"/>
<text transform="translate(52.7 300.1) scale(0.836 1)" font-size="10.5" text-anchor="start" font-weight="normal" fill="#231f20">East Asia &amp; Pacific</text>
<rect x="30" y="303.6" width="19.8" height="5.0" fill="#ae1b2c"/>
<text transform="translate(52.7 312.2) scale(0.836 1)" font-size="10.5" text-anchor="start" font-weight="normal" fill="#231f20">Europe &amp; Central Asia</text>
<rect x="30" y="317.3" width="19.8" height="5.0" fill="#f6c03c"/>
<text transform="translate(52.7 326.0) scale(0.836 1)" font-size="10.5" text-anchor="start" font-weight="normal" fill="#231f20">Latin America &amp; Caribbean</text>
<rect x="30" y="331.6" width="19.8" height="5.0" fill="#437e34"/>
<text transform="translate(52.7 340.3) scale(0.836 1)" font-size="10.5" text-anchor="start" font-weight="normal" fill="#231f20">Middle East &amp; North Africa</text>
<rect x="30" y="345.5" width="19.8" height="5.0" fill="#8faadc"/>
<text transform="translate(52.7 354.2) scale(0.836 1)" font-size="10.5" text-anchor="start" font-weight="normal" fill="#231f20">North America</text>
<rect x="30" y="358.0" width="19.8" height="5.0" fill="#e6908d"/>
<text transform="translate(52.7 366.7) scale(0.836 1)" font-size="10.5" text-anchor="start" font-weight="normal" fill="#231f20">South Asia</text>
<rect x="30" y="372.4" width="19.8" height="5.0" fill="#fcd6a0"/>
<text transform="translate(52.7 380.6) scale(0.836 1)" font-size="10.5" text-anchor="start" font-weight="normal" fill="#231f20">Sub-Saharan Africa</text>
</g>
</svg>
<div class="t" id="src">Sources: United Nations and IMF staff estimates.</div>
<div id="footer"></div>
<div id="ftxt">INTERNATIONAL MONETARY FUND</div>
</div>
</body></html>
